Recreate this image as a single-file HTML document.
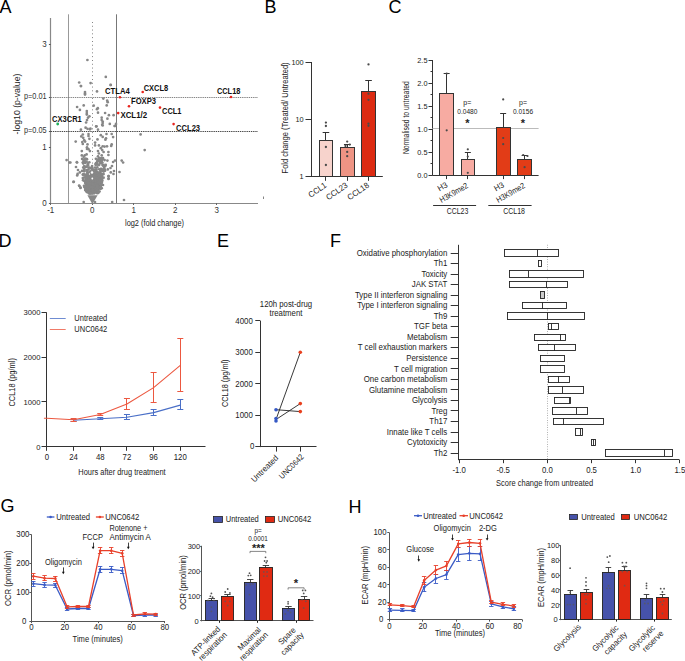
<!DOCTYPE html>
<html><head><meta charset="utf-8"><style>
html,body{margin:0;padding:0;background:#fff;}
svg{display:block;font-family:"Liberation Sans",sans-serif;font-size:7.8px;fill:#222;}
</style></head><body>
<svg width="685" height="661" viewBox="0 0 685 661">
<rect width="685" height="661" fill="#fff"/>
<text x="-0.4" y="12.9" font-size="18" fill="#000">A</text>
<line x1="50.5" y1="18" x2="50.5" y2="203.5" stroke="#888" stroke-width="1.2"/>
<line x1="48.9" y1="44.5" x2="50.7" y2="44.5" stroke="#555" stroke-width="1"/>
<text x="46.8" y="46.9" text-anchor="end" font-size="8.48" fill="#333" textLength="4.45" lengthAdjust="spacingAndGlyphs">3</text>
<line x1="48.9" y1="147.5" x2="50.7" y2="147.5" stroke="#555" stroke-width="1"/>
<text x="46.8" y="150.2" text-anchor="end" font-size="8.48" fill="#333" textLength="4.45" lengthAdjust="spacingAndGlyphs">1</text>
<line x1="48.9" y1="203.5" x2="50.7" y2="203.5" stroke="#555" stroke-width="1"/>
<text x="46.8" y="205.9" text-anchor="end" font-size="8.48" fill="#333" textLength="4.45" lengthAdjust="spacingAndGlyphs">0</text>
<line x1="48.9" y1="97.5" x2="50.7" y2="97.5" stroke="#555" stroke-width="1"/>
<text x="46.6" y="99.4" text-anchor="end" font-size="8.27" fill="#333" textLength="22.6" lengthAdjust="spacingAndGlyphs">p=0.01</text>
<line x1="48.9" y1="131.5" x2="50.7" y2="131.5" stroke="#555" stroke-width="1"/>
<text x="46.6" y="133.4" text-anchor="end" font-size="8.27" fill="#333" textLength="22.6" lengthAdjust="spacingAndGlyphs">p=0.05</text>
<line x1="50.7" y1="203.5" x2="258" y2="203.5" stroke="#888" stroke-width="1.2"/>
<line x1="50.5" y1="203" x2="50.5" y2="205" stroke="#666" stroke-width="1"/>
<text x="50.7" y="212.8" text-anchor="middle" font-size="8.48" fill="#333" textLength="7.11" lengthAdjust="spacingAndGlyphs">-1</text>
<line x1="92.5" y1="203" x2="92.5" y2="205" stroke="#666" stroke-width="1"/>
<text x="92.2" y="212.8" text-anchor="middle" font-size="8.48" fill="#333" textLength="4.45" lengthAdjust="spacingAndGlyphs">0</text>
<line x1="133.5" y1="203" x2="133.5" y2="205" stroke="#666" stroke-width="1"/>
<text x="133.7" y="212.8" text-anchor="middle" font-size="8.48" fill="#333" textLength="4.45" lengthAdjust="spacingAndGlyphs">1</text>
<line x1="175.5" y1="203" x2="175.5" y2="205" stroke="#666" stroke-width="1"/>
<text x="175.2" y="212.8" text-anchor="middle" font-size="8.48" fill="#333" textLength="4.45" lengthAdjust="spacingAndGlyphs">2</text>
<line x1="216.5" y1="203" x2="216.5" y2="205" stroke="#666" stroke-width="1"/>
<text x="216.7" y="212.8" text-anchor="middle" font-size="8.48" fill="#333" textLength="4.45" lengthAdjust="spacingAndGlyphs">3</text>
<text x="154.5" y="225.8" text-anchor="middle" font-size="8.27" textLength="59" lengthAdjust="spacingAndGlyphs">log2 (fold change)</text>
<text x="20.3" y="104" text-anchor="middle" font-size="8.9" textLength="60.8" lengthAdjust="spacingAndGlyphs" transform="rotate(-90 20.3 104)">-log10 (p-value)</text>
<line x1="68.5" y1="14.3" x2="68.5" y2="203" stroke="#999" stroke-width="1"/>
<line x1="116.5" y1="14.3" x2="116.5" y2="203" stroke="#777" stroke-width="1"/>
<line x1="92.5" y1="22" x2="92.5" y2="203" stroke="#666" stroke-width="0.9" stroke-dasharray="0.9 2.9"/>
<line x1="50.7" y1="97.5" x2="258" y2="97.5" stroke="#777" stroke-width="0.9" stroke-dasharray="1.4 0.8"/>
<line x1="50.7" y1="131.5" x2="258" y2="131.5" stroke="#333" stroke-width="0.9" stroke-dasharray="1.4 0.8"/>
<polygon points="86.5,172 85.3,176 84.6,180 85,185 86.8,190 88.8,193.2 97.2,193.2 99.4,190 101.4,185 103.3,180 103,176 101.5,172 96,170.5 91,171.5" fill="#878787"/>
<polygon points="87.4,195.2 97.6,195.2 92.4,204.2" fill="#878787"/>
<circle cx="95.05" cy="180.33" r="1.35" fill="#878787"/>
<circle cx="95.72" cy="178.28" r="1.35" fill="#878787"/>
<circle cx="93.24" cy="189.2" r="1.35" fill="#878787"/>
<circle cx="100.6" cy="173.58" r="1.35" fill="#878787"/>
<circle cx="90.25" cy="191.65" r="1.35" fill="#878787"/>
<circle cx="96.99" cy="191.73" r="1.35" fill="#878787"/>
<circle cx="83.86" cy="171.04" r="1.35" fill="#878787"/>
<circle cx="102.57" cy="158.79" r="1.35" fill="#878787"/>
<circle cx="96.73" cy="172.62" r="1.35" fill="#878787"/>
<circle cx="85.23" cy="189.98" r="1.35" fill="#878787"/>
<circle cx="83.84" cy="177.51" r="1.35" fill="#878787"/>
<circle cx="88.75" cy="189.04" r="1.35" fill="#878787"/>
<circle cx="92.38" cy="193.06" r="1.35" fill="#878787"/>
<circle cx="101.22" cy="180.76" r="1.35" fill="#878787"/>
<circle cx="96.91" cy="177.86" r="1.35" fill="#878787"/>
<circle cx="97.41" cy="178.58" r="1.35" fill="#878787"/>
<circle cx="88.76" cy="180.15" r="1.35" fill="#878787"/>
<circle cx="102.95" cy="158.1" r="1.35" fill="#878787"/>
<circle cx="99.11" cy="164.94" r="1.35" fill="#878787"/>
<circle cx="87.99" cy="185.11" r="1.35" fill="#878787"/>
<circle cx="85.11" cy="185.98" r="1.35" fill="#878787"/>
<circle cx="92.09" cy="168.05" r="1.35" fill="#878787"/>
<circle cx="100.43" cy="159.85" r="1.35" fill="#878787"/>
<circle cx="89.7" cy="193.5" r="1.35" fill="#878787"/>
<circle cx="94.48" cy="192.15" r="1.35" fill="#878787"/>
<circle cx="89.03" cy="167.54" r="1.35" fill="#878787"/>
<circle cx="90.67" cy="191.82" r="1.35" fill="#878787"/>
<circle cx="98.37" cy="159.59" r="1.35" fill="#878787"/>
<circle cx="89.28" cy="191.05" r="1.35" fill="#878787"/>
<circle cx="86.87" cy="191.48" r="1.35" fill="#878787"/>
<circle cx="86.82" cy="166.77" r="1.35" fill="#878787"/>
<circle cx="92.57" cy="176.33" r="1.35" fill="#878787"/>
<circle cx="96.92" cy="189.03" r="1.35" fill="#878787"/>
<circle cx="95.09" cy="190.7" r="1.35" fill="#878787"/>
<circle cx="91.79" cy="191.08" r="1.35" fill="#878787"/>
<circle cx="89.14" cy="188.37" r="1.35" fill="#878787"/>
<circle cx="99.25" cy="159.29" r="1.35" fill="#878787"/>
<circle cx="100.6" cy="185.48" r="1.35" fill="#878787"/>
<circle cx="91.27" cy="188.43" r="1.35" fill="#878787"/>
<circle cx="97.37" cy="164.34" r="1.35" fill="#878787"/>
<circle cx="99.57" cy="191.5" r="1.35" fill="#878787"/>
<circle cx="88.94" cy="188.36" r="1.35" fill="#878787"/>
<circle cx="90.42" cy="167.78" r="1.35" fill="#878787"/>
<circle cx="85.11" cy="185.74" r="1.35" fill="#878787"/>
<circle cx="93.97" cy="191.75" r="1.35" fill="#878787"/>
<circle cx="94.93" cy="187.44" r="1.35" fill="#878787"/>
<circle cx="92.47" cy="183.2" r="1.35" fill="#878787"/>
<circle cx="102" cy="175.74" r="1.35" fill="#878787"/>
<circle cx="87.32" cy="189.26" r="1.35" fill="#878787"/>
<circle cx="100.59" cy="162.02" r="1.35" fill="#878787"/>
<circle cx="87.58" cy="187.24" r="1.35" fill="#878787"/>
<circle cx="104.62" cy="169.16" r="1.35" fill="#878787"/>
<circle cx="100.62" cy="188.85" r="1.35" fill="#878787"/>
<circle cx="96.1" cy="163.15" r="1.35" fill="#878787"/>
<circle cx="85.04" cy="181.44" r="1.35" fill="#878787"/>
<circle cx="98.09" cy="192.89" r="1.35" fill="#878787"/>
<circle cx="96.74" cy="187.59" r="1.35" fill="#878787"/>
<circle cx="99.01" cy="187" r="1.35" fill="#878787"/>
<circle cx="89.12" cy="174.89" r="1.35" fill="#878787"/>
<circle cx="96.63" cy="189.47" r="1.35" fill="#878787"/>
<circle cx="89.45" cy="192.25" r="1.35" fill="#878787"/>
<circle cx="101.68" cy="176.33" r="1.35" fill="#878787"/>
<circle cx="88.91" cy="174.19" r="1.35" fill="#878787"/>
<circle cx="86.62" cy="161.63" r="1.35" fill="#878787"/>
<circle cx="90.27" cy="193.29" r="1.35" fill="#878787"/>
<circle cx="83.95" cy="180.57" r="1.35" fill="#878787"/>
<circle cx="90.88" cy="189.45" r="1.35" fill="#878787"/>
<circle cx="85.46" cy="175.83" r="1.35" fill="#878787"/>
<circle cx="101.37" cy="183.53" r="1.35" fill="#878787"/>
<circle cx="95.91" cy="158.86" r="1.35" fill="#878787"/>
<circle cx="96.26" cy="171.13" r="1.35" fill="#878787"/>
<circle cx="85.86" cy="190.45" r="1.35" fill="#878787"/>
<circle cx="97.22" cy="193.27" r="1.35" fill="#878787"/>
<circle cx="105" cy="170.73" r="1.35" fill="#878787"/>
<circle cx="94.26" cy="193.21" r="1.35" fill="#878787"/>
<circle cx="98.94" cy="179.23" r="1.35" fill="#878787"/>
<circle cx="102.99" cy="184.99" r="1.35" fill="#878787"/>
<circle cx="93.44" cy="192.1" r="1.35" fill="#878787"/>
<circle cx="103.7" cy="169.26" r="1.35" fill="#878787"/>
<circle cx="99.16" cy="169.25" r="1.35" fill="#878787"/>
<circle cx="104.02" cy="166.92" r="1.35" fill="#878787"/>
<circle cx="97.1" cy="183.88" r="1.35" fill="#878787"/>
<circle cx="101.93" cy="162.34" r="1.35" fill="#878787"/>
<circle cx="99.85" cy="181.6" r="1.35" fill="#878787"/>
<circle cx="95.64" cy="163.95" r="1.35" fill="#878787"/>
<circle cx="91.27" cy="173.77" r="1.35" fill="#878787"/>
<circle cx="96.2" cy="175.43" r="1.35" fill="#878787"/>
<circle cx="94.65" cy="191.98" r="1.35" fill="#878787"/>
<circle cx="100.53" cy="158.3" r="1.35" fill="#878787"/>
<circle cx="91.91" cy="169.62" r="1.35" fill="#878787"/>
<circle cx="96.33" cy="169.34" r="1.35" fill="#878787"/>
<circle cx="101.13" cy="180.76" r="1.35" fill="#878787"/>
<circle cx="96.12" cy="191.9" r="1.35" fill="#878787"/>
<circle cx="93.91" cy="193.06" r="1.35" fill="#878787"/>
<circle cx="87.68" cy="179.28" r="1.35" fill="#878787"/>
<circle cx="94.31" cy="170.84" r="1.35" fill="#878787"/>
<circle cx="103.37" cy="174.19" r="1.35" fill="#878787"/>
<circle cx="84.32" cy="187.04" r="1.35" fill="#878787"/>
<circle cx="96.62" cy="185.58" r="1.35" fill="#878787"/>
<circle cx="87.47" cy="188.68" r="1.35" fill="#878787"/>
<circle cx="97.06" cy="162.13" r="1.35" fill="#878787"/>
<circle cx="102.33" cy="180.71" r="1.35" fill="#878787"/>
<circle cx="96.54" cy="184.72" r="1.35" fill="#878787"/>
<circle cx="91.9" cy="188.8" r="1.35" fill="#878787"/>
<circle cx="104" cy="166.39" r="1.35" fill="#878787"/>
<circle cx="89.62" cy="175.41" r="1.35" fill="#878787"/>
<circle cx="92.91" cy="190.56" r="1.35" fill="#878787"/>
<circle cx="102.45" cy="165.08" r="1.35" fill="#878787"/>
<circle cx="104.79" cy="170.31" r="1.35" fill="#878787"/>
<circle cx="87.05" cy="186.37" r="1.35" fill="#878787"/>
<circle cx="88.7" cy="180.39" r="1.35" fill="#878787"/>
<circle cx="91.61" cy="188.33" r="1.35" fill="#878787"/>
<circle cx="93.8" cy="173.74" r="1.35" fill="#878787"/>
<circle cx="99.83" cy="185.11" r="1.35" fill="#878787"/>
<circle cx="86.91" cy="192.11" r="1.35" fill="#878787"/>
<circle cx="83.25" cy="163.55" r="1.35" fill="#878787"/>
<circle cx="96.06" cy="170.42" r="1.35" fill="#878787"/>
<circle cx="98.85" cy="185.32" r="1.35" fill="#878787"/>
<circle cx="88.8" cy="193.25" r="1.35" fill="#878787"/>
<circle cx="83.1" cy="180.24" r="1.35" fill="#878787"/>
<circle cx="88.11" cy="165.39" r="1.35" fill="#878787"/>
<circle cx="86.03" cy="190.44" r="1.35" fill="#878787"/>
<circle cx="92.75" cy="173.61" r="1.35" fill="#878787"/>
<circle cx="97.47" cy="173.58" r="1.35" fill="#878787"/>
<circle cx="105.03" cy="166.33" r="1.35" fill="#878787"/>
<circle cx="87.42" cy="171.4" r="1.35" fill="#878787"/>
<circle cx="86.52" cy="179.5" r="1.35" fill="#878787"/>
<circle cx="92.46" cy="193.38" r="1.35" fill="#878787"/>
<circle cx="87.1" cy="170.19" r="1.35" fill="#878787"/>
<circle cx="90.33" cy="186.52" r="1.35" fill="#878787"/>
<circle cx="94.84" cy="170.88" r="1.35" fill="#878787"/>
<circle cx="99.66" cy="174.19" r="1.35" fill="#878787"/>
<circle cx="99.65" cy="182.44" r="1.35" fill="#878787"/>
<circle cx="84.06" cy="162.11" r="1.35" fill="#878787"/>
<circle cx="98.07" cy="160.97" r="1.35" fill="#878787"/>
<circle cx="92.26" cy="190.73" r="1.35" fill="#878787"/>
<circle cx="103.21" cy="173.75" r="1.35" fill="#878787"/>
<circle cx="94.87" cy="183.02" r="1.35" fill="#878787"/>
<circle cx="100.58" cy="163.27" r="1.35" fill="#878787"/>
<circle cx="87.38" cy="172.73" r="1.35" fill="#878787"/>
<circle cx="101.82" cy="169.88" r="1.35" fill="#878787"/>
<circle cx="98.97" cy="173.11" r="1.35" fill="#878787"/>
<circle cx="99.94" cy="188.35" r="1.35" fill="#878787"/>
<circle cx="102.88" cy="158.86" r="1.35" fill="#878787"/>
<circle cx="100.29" cy="177.18" r="1.35" fill="#878787"/>
<circle cx="101.26" cy="184.94" r="1.35" fill="#878787"/>
<circle cx="92.1" cy="191.92" r="1.35" fill="#878787"/>
<circle cx="99.79" cy="176.67" r="1.35" fill="#878787"/>
<circle cx="83.14" cy="179.04" r="1.35" fill="#878787"/>
<circle cx="84.12" cy="166.26" r="1.35" fill="#878787"/>
<circle cx="86.7" cy="166.65" r="1.35" fill="#878787"/>
<circle cx="99.01" cy="184.45" r="1.35" fill="#878787"/>
<circle cx="87.59" cy="190.45" r="1.35" fill="#878787"/>
<circle cx="98.78" cy="177.95" r="1.35" fill="#878787"/>
<circle cx="98.68" cy="164.95" r="1.35" fill="#878787"/>
<circle cx="83.72" cy="160.24" r="1.35" fill="#878787"/>
<circle cx="93.56" cy="188.11" r="1.35" fill="#878787"/>
<circle cx="97.51" cy="185.94" r="1.35" fill="#878787"/>
<circle cx="94.53" cy="173.22" r="1.35" fill="#878787"/>
<circle cx="95.6" cy="164.8" r="1.35" fill="#878787"/>
<circle cx="90.94" cy="185.23" r="1.35" fill="#878787"/>
<circle cx="103.55" cy="164.73" r="1.35" fill="#878787"/>
<circle cx="99.05" cy="188.51" r="1.35" fill="#878787"/>
<circle cx="87.02" cy="175.8" r="1.35" fill="#878787"/>
<circle cx="93.82" cy="177.22" r="1.35" fill="#878787"/>
<circle cx="83.17" cy="174.55" r="1.35" fill="#878787"/>
<circle cx="99.91" cy="182.19" r="1.35" fill="#878787"/>
<circle cx="93.55" cy="176.19" r="1.35" fill="#878787"/>
<circle cx="84.39" cy="171.14" r="1.35" fill="#878787"/>
<circle cx="91.81" cy="177.12" r="1.35" fill="#878787"/>
<circle cx="102.13" cy="159.9" r="1.35" fill="#878787"/>
<circle cx="92.68" cy="186.62" r="1.35" fill="#878787"/>
<circle cx="91.97" cy="190.81" r="1.35" fill="#878787"/>
<circle cx="103.67" cy="165.98" r="1.35" fill="#878787"/>
<circle cx="89.64" cy="179.44" r="1.35" fill="#878787"/>
<circle cx="95.02" cy="189" r="1.35" fill="#878787"/>
<circle cx="84.87" cy="161.28" r="1.35" fill="#878787"/>
<circle cx="83.28" cy="167.51" r="1.35" fill="#878787"/>
<circle cx="88.48" cy="188.93" r="1.35" fill="#878787"/>
<circle cx="90.24" cy="171.29" r="1.35" fill="#878787"/>
<circle cx="95.8" cy="183.76" r="1.35" fill="#878787"/>
<circle cx="96.09" cy="191.38" r="1.35" fill="#878787"/>
<circle cx="93.09" cy="190.92" r="1.35" fill="#878787"/>
<circle cx="87.71" cy="187.21" r="1.35" fill="#878787"/>
<circle cx="92.33" cy="177.43" r="1.35" fill="#878787"/>
<circle cx="91.65" cy="183.06" r="1.35" fill="#878787"/>
<circle cx="86.09" cy="177.47" r="1.35" fill="#878787"/>
<circle cx="95.3" cy="188.63" r="1.35" fill="#878787"/>
<circle cx="94.69" cy="173.24" r="1.35" fill="#878787"/>
<circle cx="96.71" cy="164.47" r="1.35" fill="#878787"/>
<circle cx="87.81" cy="164.24" r="1.35" fill="#878787"/>
<circle cx="101.62" cy="169.1" r="1.35" fill="#878787"/>
<circle cx="89.29" cy="162.26" r="1.35" fill="#878787"/>
<circle cx="101.45" cy="185.12" r="1.35" fill="#878787"/>
<circle cx="101.69" cy="188.21" r="1.35" fill="#878787"/>
<circle cx="85.27" cy="162.92" r="1.35" fill="#878787"/>
<circle cx="97.13" cy="187.56" r="1.35" fill="#878787"/>
<circle cx="85.84" cy="186.93" r="1.35" fill="#878787"/>
<circle cx="85.64" cy="167.06" r="1.35" fill="#878787"/>
<circle cx="97.47" cy="182.11" r="1.35" fill="#878787"/>
<circle cx="89.52" cy="193.27" r="1.35" fill="#878787"/>
<circle cx="103.68" cy="171.48" r="1.35" fill="#878787"/>
<circle cx="84.23" cy="159.4" r="1.35" fill="#878787"/>
<circle cx="99.56" cy="178.36" r="1.35" fill="#878787"/>
<circle cx="97.93" cy="178.47" r="1.35" fill="#878787"/>
<circle cx="85.9" cy="189.08" r="1.35" fill="#878787"/>
<circle cx="86.48" cy="191.35" r="1.35" fill="#878787"/>
<circle cx="94.08" cy="176.62" r="1.35" fill="#878787"/>
<circle cx="85.8" cy="175.97" r="1.35" fill="#878787"/>
<circle cx="88.14" cy="189.21" r="1.35" fill="#878787"/>
<circle cx="105.75" cy="164.94" r="1.35" fill="#878787"/>
<circle cx="84.09" cy="161.21" r="1.35" fill="#878787"/>
<circle cx="98.35" cy="192.4" r="1.35" fill="#878787"/>
<circle cx="99.71" cy="179.98" r="1.35" fill="#878787"/>
<circle cx="92.63" cy="184.73" r="1.35" fill="#878787"/>
<circle cx="92.18" cy="178" r="1.35" fill="#878787"/>
<circle cx="82.83" cy="174.72" r="1.35" fill="#878787"/>
<circle cx="102.28" cy="170.73" r="1.35" fill="#878787"/>
<circle cx="92.28" cy="189.3" r="1.35" fill="#878787"/>
<circle cx="92.27" cy="169.16" r="1.35" fill="#878787"/>
<circle cx="87.44" cy="188.9" r="1.35" fill="#878787"/>
<circle cx="82.85" cy="178.1" r="1.35" fill="#878787"/>
<circle cx="100.48" cy="162.67" r="1.35" fill="#878787"/>
<circle cx="102.69" cy="170.58" r="1.35" fill="#878787"/>
<circle cx="91.8" cy="173.6" r="1.35" fill="#878787"/>
<circle cx="93.88" cy="174.77" r="1.35" fill="#878787"/>
<circle cx="99.09" cy="158.77" r="1.35" fill="#878787"/>
<circle cx="100.61" cy="186.96" r="1.35" fill="#878787"/>
<circle cx="100.87" cy="168.95" r="1.35" fill="#878787"/>
<circle cx="92.09" cy="166.03" r="1.35" fill="#878787"/>
<circle cx="102.2" cy="162.53" r="1.35" fill="#878787"/>
<circle cx="100.47" cy="170.98" r="1.35" fill="#878787"/>
<circle cx="92.22" cy="168.09" r="1.35" fill="#878787"/>
<circle cx="84.61" cy="169.85" r="1.35" fill="#878787"/>
<circle cx="92.71" cy="184.22" r="1.35" fill="#878787"/>
<circle cx="91.22" cy="193.38" r="1.35" fill="#878787"/>
<circle cx="96.83" cy="173.23" r="1.35" fill="#878787"/>
<circle cx="100.92" cy="187.78" r="1.35" fill="#878787"/>
<circle cx="90.48" cy="172.14" r="1.35" fill="#878787"/>
<circle cx="95.72" cy="172.39" r="1.35" fill="#878787"/>
<circle cx="91.27" cy="177.33" r="1.35" fill="#878787"/>
<circle cx="100.39" cy="170.72" r="1.35" fill="#878787"/>
<circle cx="82.12" cy="158.88" r="1.35" fill="#878787"/>
<circle cx="99.27" cy="174.15" r="1.35" fill="#878787"/>
<circle cx="91.37" cy="187.02" r="1.35" fill="#878787"/>
<circle cx="89.21" cy="192.65" r="1.35" fill="#878787"/>
<circle cx="85.15" cy="183.06" r="1.35" fill="#878787"/>
<circle cx="100.43" cy="187.2" r="1.35" fill="#878787"/>
<circle cx="93.93" cy="176.68" r="1.35" fill="#878787"/>
<circle cx="84.41" cy="166.24" r="1.35" fill="#878787"/>
<circle cx="99.61" cy="174.85" r="1.35" fill="#878787"/>
<circle cx="97.82" cy="192.76" r="1.35" fill="#878787"/>
<circle cx="92.55" cy="189.91" r="1.35" fill="#878787"/>
<circle cx="92.94" cy="189.65" r="1.35" fill="#878787"/>
<circle cx="83.89" cy="174.32" r="1.35" fill="#878787"/>
<circle cx="95.95" cy="177.57" r="1.35" fill="#878787"/>
<circle cx="89.03" cy="183.41" r="1.35" fill="#878787"/>
<circle cx="95.49" cy="172.58" r="1.35" fill="#878787"/>
<circle cx="97.24" cy="186.16" r="1.35" fill="#878787"/>
<circle cx="83.99" cy="185.75" r="1.35" fill="#878787"/>
<circle cx="84.98" cy="187.38" r="1.35" fill="#878787"/>
<circle cx="97.07" cy="190" r="1.35" fill="#878787"/>
<circle cx="101.83" cy="182.56" r="1.35" fill="#878787"/>
<circle cx="84.04" cy="168.79" r="1.35" fill="#878787"/>
<circle cx="102.01" cy="158.5" r="1.35" fill="#878787"/>
<circle cx="97.97" cy="192.14" r="1.35" fill="#878787"/>
<circle cx="93.15" cy="181.16" r="1.35" fill="#878787"/>
<circle cx="86.99" cy="159.19" r="1.35" fill="#878787"/>
<circle cx="103.59" cy="177.7" r="1.35" fill="#878787"/>
<circle cx="93.76" cy="169.84" r="1.35" fill="#878787"/>
<circle cx="99.41" cy="158.94" r="1.35" fill="#878787"/>
<circle cx="85.13" cy="174.61" r="1.35" fill="#878787"/>
<circle cx="92.93" cy="173.8" r="1.35" fill="#878787"/>
<circle cx="85.48" cy="188.64" r="1.35" fill="#878787"/>
<circle cx="85.3" cy="177.52" r="1.35" fill="#878787"/>
<circle cx="97.39" cy="180.67" r="1.35" fill="#878787"/>
<circle cx="88.41" cy="180.21" r="1.35" fill="#878787"/>
<circle cx="91.94" cy="175.44" r="1.35" fill="#878787"/>
<circle cx="95.09" cy="167.56" r="1.35" fill="#878787"/>
<circle cx="102.03" cy="158.1" r="1.35" fill="#878787"/>
<circle cx="88.44" cy="169.37" r="1.35" fill="#878787"/>
<circle cx="98.49" cy="191.15" r="1.35" fill="#878787"/>
<circle cx="97.27" cy="167.3" r="1.35" fill="#878787"/>
<circle cx="87.4" cy="60" r="1.35" fill="#878787"/>
<circle cx="105.8" cy="76.9" r="1.35" fill="#878787"/>
<circle cx="110.6" cy="84.9" r="1.35" fill="#878787"/>
<circle cx="79.2" cy="82.5" r="1.35" fill="#878787"/>
<circle cx="81" cy="86.1" r="1.35" fill="#878787"/>
<circle cx="90.6" cy="83.1" r="1.35" fill="#878787"/>
<circle cx="97" cy="91.4" r="1.35" fill="#878787"/>
<circle cx="85" cy="92" r="1.35" fill="#878787"/>
<circle cx="85" cy="93.4" r="1.35" fill="#878787"/>
<circle cx="85" cy="94.6" r="1.35" fill="#878787"/>
<circle cx="103.3" cy="98.6" r="1.35" fill="#878787"/>
<circle cx="107.2" cy="100.7" r="1.35" fill="#878787"/>
<circle cx="107.7" cy="102.2" r="1.35" fill="#878787"/>
<circle cx="106.7" cy="105.4" r="1.35" fill="#878787"/>
<circle cx="77.1" cy="107" r="1.35" fill="#878787"/>
<circle cx="83.7" cy="105.4" r="1.35" fill="#878787"/>
<circle cx="79.9" cy="109.9" r="1.35" fill="#878787"/>
<circle cx="93.7" cy="105.7" r="1.35" fill="#878787"/>
<circle cx="97" cy="109.2" r="1.35" fill="#878787"/>
<circle cx="97.8" cy="108.2" r="1.35" fill="#878787"/>
<circle cx="98" cy="112.7" r="1.35" fill="#878787"/>
<circle cx="86.8" cy="111.1" r="1.35" fill="#878787"/>
<circle cx="86.8" cy="113" r="1.35" fill="#878787"/>
<circle cx="86.8" cy="114.6" r="1.35" fill="#878787"/>
<circle cx="105.1" cy="113" r="1.35" fill="#878787"/>
<circle cx="108.9" cy="115.2" r="1.35" fill="#878787"/>
<circle cx="113.6" cy="115.2" r="1.35" fill="#878787"/>
<circle cx="107.4" cy="118.7" r="1.35" fill="#878787"/>
<circle cx="89.4" cy="116.3" r="1.35" fill="#878787"/>
<circle cx="88" cy="117.7" r="1.35" fill="#878787"/>
<circle cx="87" cy="120.1" r="1.35" fill="#878787"/>
<circle cx="86.1" cy="122.5" r="1.35" fill="#878787"/>
<circle cx="101.7" cy="117.7" r="1.35" fill="#878787"/>
<circle cx="101.7" cy="120" r="1.35" fill="#878787"/>
<circle cx="102.7" cy="121.5" r="1.35" fill="#878787"/>
<circle cx="102.7" cy="123" r="1.35" fill="#878787"/>
<circle cx="102.2" cy="124.8" r="1.35" fill="#878787"/>
<circle cx="109.8" cy="123.9" r="1.35" fill="#878787"/>
<circle cx="116" cy="123.9" r="1.35" fill="#878787"/>
<circle cx="115" cy="126" r="1.35" fill="#878787"/>
<circle cx="96.5" cy="126.3" r="1.35" fill="#878787"/>
<circle cx="85.6" cy="127.7" r="1.35" fill="#878787"/>
<circle cx="90.4" cy="128.6" r="1.35" fill="#878787"/>
<circle cx="80.9" cy="86" r="1.35" fill="#878787"/>
<circle cx="80.9" cy="129.7" r="1.35" fill="#878787"/>
<circle cx="87.5" cy="128.8" r="1.35" fill="#878787"/>
<circle cx="89.9" cy="129.3" r="1.35" fill="#878787"/>
<circle cx="96.1" cy="126.4" r="1.35" fill="#878787"/>
<circle cx="98" cy="129.7" r="1.35" fill="#878787"/>
<circle cx="102.7" cy="125.5" r="1.35" fill="#878787"/>
<circle cx="114.6" cy="126" r="1.35" fill="#878787"/>
<circle cx="110.8" cy="85" r="1.35" fill="#878787"/>
<circle cx="82.8" cy="134.5" r="1.35" fill="#878787"/>
<circle cx="81.3" cy="136.4" r="1.35" fill="#878787"/>
<circle cx="83.2" cy="137.8" r="1.35" fill="#878787"/>
<circle cx="88.5" cy="134" r="1.35" fill="#878787"/>
<circle cx="88.5" cy="136" r="1.35" fill="#878787"/>
<circle cx="89.4" cy="138.8" r="1.35" fill="#878787"/>
<circle cx="84.2" cy="140.2" r="1.35" fill="#878787"/>
<circle cx="85.1" cy="141.6" r="1.35" fill="#878787"/>
<circle cx="82.3" cy="142.1" r="1.35" fill="#878787"/>
<circle cx="82.8" cy="144" r="1.35" fill="#878787"/>
<circle cx="75.7" cy="141.6" r="1.35" fill="#878787"/>
<circle cx="100.8" cy="135.2" r="1.35" fill="#878787"/>
<circle cx="102.7" cy="136.9" r="1.35" fill="#878787"/>
<circle cx="106.5" cy="134" r="1.35" fill="#878787"/>
<circle cx="106" cy="138.3" r="1.35" fill="#878787"/>
<circle cx="105.4" cy="139.7" r="1.35" fill="#878787"/>
<circle cx="111.7" cy="134" r="1.35" fill="#878787"/>
<circle cx="113.1" cy="137.1" r="1.35" fill="#878787"/>
<circle cx="97.5" cy="139.4" r="1.35" fill="#878787"/>
<circle cx="95.1" cy="142.6" r="1.35" fill="#878787"/>
<circle cx="95.1" cy="145.4" r="1.35" fill="#878787"/>
<circle cx="98.9" cy="145.4" r="1.35" fill="#878787"/>
<circle cx="87.5" cy="144.4" r="1.35" fill="#878787"/>
<circle cx="87" cy="147.3" r="1.35" fill="#878787"/>
<circle cx="87" cy="149" r="1.35" fill="#878787"/>
<circle cx="88.5" cy="149.2" r="1.35" fill="#878787"/>
<circle cx="89.9" cy="151.1" r="1.35" fill="#878787"/>
<circle cx="81.8" cy="151.1" r="1.35" fill="#878787"/>
<circle cx="102.7" cy="146.3" r="1.35" fill="#878787"/>
<circle cx="104.6" cy="146.6" r="1.35" fill="#878787"/>
<circle cx="107" cy="146.3" r="1.35" fill="#878787"/>
<circle cx="111.7" cy="144.4" r="1.35" fill="#878787"/>
<circle cx="111.2" cy="145.9" r="1.35" fill="#878787"/>
<circle cx="100.8" cy="148.2" r="1.35" fill="#878787"/>
<circle cx="102.2" cy="150.1" r="1.35" fill="#878787"/>
<circle cx="103.6" cy="152" r="1.35" fill="#878787"/>
<circle cx="108.4" cy="152" r="1.35" fill="#878787"/>
<circle cx="108.4" cy="155" r="1.35" fill="#878787"/>
<circle cx="98" cy="151.1" r="1.35" fill="#878787"/>
<circle cx="98.9" cy="153.5" r="1.35" fill="#878787"/>
<circle cx="81.8" cy="155.4" r="1.35" fill="#878787"/>
<circle cx="84.7" cy="155.4" r="1.35" fill="#878787"/>
<circle cx="86.6" cy="154.4" r="1.35" fill="#878787"/>
<circle cx="83.7" cy="156.8" r="1.35" fill="#878787"/>
<circle cx="85.6" cy="158.7" r="1.35" fill="#878787"/>
<circle cx="98" cy="156.3" r="1.35" fill="#878787"/>
<circle cx="98.9" cy="158.2" r="1.35" fill="#878787"/>
<circle cx="101.7" cy="155.4" r="1.35" fill="#878787"/>
<circle cx="97.5" cy="160.6" r="1.35" fill="#878787"/>
<circle cx="99.8" cy="161.5" r="1.35" fill="#878787"/>
<circle cx="104.6" cy="160.1" r="1.35" fill="#878787"/>
<circle cx="107.4" cy="160.6" r="1.35" fill="#878787"/>
<circle cx="66.6" cy="160.1" r="1.35" fill="#878787"/>
<circle cx="69.5" cy="162.5" r="1.35" fill="#878787"/>
<circle cx="77.1" cy="162.5" r="1.35" fill="#878787"/>
<circle cx="82.8" cy="162.5" r="1.35" fill="#878787"/>
<circle cx="88" cy="163.4" r="1.35" fill="#878787"/>
<circle cx="113.1" cy="162" r="1.35" fill="#878787"/>
<circle cx="115" cy="160.6" r="1.35" fill="#878787"/>
<circle cx="121.7" cy="160.6" r="1.35" fill="#878787"/>
<circle cx="123.1" cy="162.5" r="1.35" fill="#878787"/>
<circle cx="140.6" cy="134.4" r="1.35" fill="#878787"/>
<circle cx="144.7" cy="150.1" r="1.35" fill="#878787"/>
<circle cx="73.8" cy="181.8" r="1.35" fill="#878787"/>
<circle cx="79.4" cy="186" r="1.35" fill="#878787"/>
<circle cx="80.5" cy="188" r="1.35" fill="#878787"/>
<circle cx="108.5" cy="176" r="1.35" fill="#878787"/>
<circle cx="108.5" cy="179" r="1.35" fill="#878787"/>
<circle cx="119.5" cy="172" r="1.35" fill="#878787"/>
<circle cx="83.7" cy="202" r="1.35" fill="#878787"/>
<circle cx="112.2" cy="202" r="1.35" fill="#878787"/>
<circle cx="95" cy="202" r="1.35" fill="#878787"/>
<circle cx="124" cy="200" r="1.35" fill="#878787"/>
<circle cx="110.5" cy="168" r="1.35" fill="#878787"/>
<circle cx="112" cy="166" r="1.35" fill="#878787"/>
<circle cx="114" cy="171" r="1.35" fill="#878787"/>
<circle cx="113.5" cy="174" r="1.35" fill="#878787"/>
<circle cx="76" cy="167" r="1.35" fill="#878787"/>
<circle cx="78" cy="170" r="1.35" fill="#878787"/>
<circle cx="73.4" cy="181.9" r="1.35" fill="#878787"/>
<circle cx="79.1" cy="185.6" r="1.35" fill="#878787"/>
<circle cx="80.6" cy="187.5" r="1.35" fill="#878787"/>
<circle cx="77.2" cy="175.4" r="1.35" fill="#878787"/>
<circle cx="77.6" cy="173.9" r="1.35" fill="#878787"/>
<circle cx="79.8" cy="172.4" r="1.35" fill="#878787"/>
<circle cx="82.1" cy="170.9" r="1.35" fill="#878787"/>
<circle cx="108.6" cy="176.2" r="1.35" fill="#878787"/>
<circle cx="108.6" cy="178.4" r="1.35" fill="#878787"/>
<circle cx="110.8" cy="172.4" r="1.35" fill="#878787"/>
<circle cx="107.8" cy="169.4" r="1.35" fill="#878787"/>
<circle cx="76.8" cy="162.2" r="1.35" fill="#878787"/>
<circle cx="83.2" cy="162.6" r="1.35" fill="#878787"/>
<circle cx="70.4" cy="162.5" r="1.35" fill="#878787"/>
<circle cx="92" cy="172.5" r="1.2" fill="#fff"/>
<circle cx="92.3" cy="178.5" r="0.9" fill="#fff"/>
<circle cx="89.5" cy="174" r="0.7" fill="#fff"/>
<circle cx="119.9" cy="97.2" r="1.3" fill="#e8231d"/>
<circle cx="129" cy="106.3" r="1.3" fill="#e8231d"/>
<circle cx="142.7" cy="92" r="1.3" fill="#e8231d"/>
<circle cx="231" cy="97" r="1.3" fill="#e8231d"/>
<circle cx="160" cy="107.6" r="1.3" fill="#e8231d"/>
<circle cx="173.6" cy="124.1" r="1.3" fill="#e8231d"/>
<circle cx="118.2" cy="113.1" r="1.3" fill="#e8231d"/>
<circle cx="57.7" cy="124" r="1.4" fill="#1fae5a"/>
<text x="105.1" y="94.2" font-weight="bold" font-size="8.27" fill="#111" textLength="24.6" lengthAdjust="spacingAndGlyphs">CTLA4</text>
<text x="143.7" y="90.6" font-weight="bold" font-size="8.27" fill="#111" textLength="24.5" lengthAdjust="spacingAndGlyphs">CXCL8</text>
<text x="216.9" y="93.7" font-weight="bold" font-size="8.27" fill="#111" textLength="23.5" lengthAdjust="spacingAndGlyphs">CCL18</text>
<text x="131" y="103.9" font-weight="bold" font-size="8.27" fill="#111" textLength="25" lengthAdjust="spacingAndGlyphs">FOXP3</text>
<text x="162.1" y="114.3" font-weight="bold" font-size="8.27" fill="#111" textLength="19.4" lengthAdjust="spacingAndGlyphs">CCL1</text>
<text x="176" y="130.5" font-weight="bold" font-size="8.27" fill="#111" textLength="24.1" lengthAdjust="spacingAndGlyphs">CCL23</text>
<text x="120.4" y="118.4" font-weight="bold" font-size="8.27" fill="#111" textLength="26.8" lengthAdjust="spacingAndGlyphs">XCL1/2</text>
<text x="52.1" y="122.1" font-weight="bold" font-size="8.27" fill="#111" textLength="29.7" lengthAdjust="spacingAndGlyphs">CX3CR1</text>
<line x1="263.5" y1="196.5" x2="263.5" y2="199" stroke="#666" stroke-width="0.8"/>
<text x="264.5" y="13.1" font-size="18" fill="#000">B</text>
<line x1="311.5" y1="62" x2="311.5" y2="176.8" stroke="#333" stroke-width="1"/>
<line x1="305.5" y1="176.5" x2="382.8" y2="176.5" stroke="#333" stroke-width="1"/>
<line x1="305.5" y1="62.5" x2="311.5" y2="62.5" stroke="#333" stroke-width="1"/>
<text x="303.7" y="64.7" text-anchor="end" font-size="7.79" textLength="12.26" lengthAdjust="spacingAndGlyphs">100</text>
<line x1="305.5" y1="119.5" x2="311.5" y2="119.5" stroke="#333" stroke-width="1"/>
<text x="303.7" y="121.9" text-anchor="end" font-size="7.79" textLength="8.17" lengthAdjust="spacingAndGlyphs">10</text>
<text x="303.7" y="179" text-anchor="end" font-size="7.79" textLength="4.09" lengthAdjust="spacingAndGlyphs">1</text>
<rect x="319.5" y="140.5" width="13" height="36" fill="#f7d3cc" stroke="#333" stroke-width="1"/>
<line x1="325.5" y1="176.3" x2="325.5" y2="180.8" stroke="#333" stroke-width="1"/>
<rect x="340.5" y="147.5" width="14" height="29" fill="#ee9484" stroke="#333" stroke-width="1"/>
<line x1="347.5" y1="176.3" x2="347.5" y2="180.8" stroke="#333" stroke-width="1"/>
<rect x="361.5" y="91.5" width="14" height="85" fill="#dc2b12" stroke="#333" stroke-width="1"/>
<line x1="368.5" y1="176.3" x2="368.5" y2="180.8" stroke="#333" stroke-width="1"/>
<line x1="325.5" y1="140.2" x2="325.5" y2="132" stroke="#333" stroke-width="1"/>
<line x1="322.65" y1="132.5" x2="329.25" y2="132.5" stroke="#333" stroke-width="1"/>
<line x1="347.5" y1="147.6" x2="347.5" y2="144.5" stroke="#333" stroke-width="1"/>
<line x1="343.95" y1="144.5" x2="350.55" y2="144.5" stroke="#333" stroke-width="1"/>
<line x1="368.5" y1="91" x2="368.5" y2="80.4" stroke="#333" stroke-width="1"/>
<line x1="365.25" y1="80.5" x2="371.85" y2="80.5" stroke="#333" stroke-width="1"/>
<circle cx="325.9" cy="122.6" r="1.15" fill="#4a4a4a"/>
<circle cx="325.9" cy="126" r="1.15" fill="#4a4a4a"/>
<circle cx="325.9" cy="147" r="1.15" fill="#4a4a4a"/>
<circle cx="325.9" cy="165" r="1.15" fill="#4a4a4a"/>
<circle cx="347.2" cy="141.6" r="1.15" fill="#4a4a4a"/>
<circle cx="349.8" cy="144.6" r="1.15" fill="#4a4a4a"/>
<circle cx="345.5" cy="146" r="1.15" fill="#4a4a4a"/>
<circle cx="347.2" cy="151.9" r="1.15" fill="#4a4a4a"/>
<circle cx="347.2" cy="156.2" r="1.15" fill="#4a4a4a"/>
<circle cx="368.5" cy="64.4" r="1.15" fill="#4a4a4a"/>
<circle cx="368.5" cy="93.7" r="1.15" fill="#4a4a4a"/>
<circle cx="368.5" cy="99.8" r="1.15" fill="#4a4a4a"/>
<circle cx="368.5" cy="123.7" r="1.15" fill="#4a4a4a"/>
<circle cx="368.5" cy="125.8" r="1.15" fill="#4a4a4a"/>
<text x="327.1" y="186.5" text-anchor="end" font-size="8.27" textLength="19.94" lengthAdjust="spacingAndGlyphs" transform="rotate(-35 327.1 186.5)">CCL1</text>
<text x="348.4" y="186.5" text-anchor="end" font-size="8.27" textLength="24.28" lengthAdjust="spacingAndGlyphs" transform="rotate(-35 348.4 186.5)">CCL23</text>
<text x="369.7" y="186.5" text-anchor="end" font-size="8.27" textLength="24.28" lengthAdjust="spacingAndGlyphs" transform="rotate(-35 369.7 186.5)">CCL18</text>
<text x="288.4" y="117.9" text-anchor="middle" font-size="8.27" textLength="111" lengthAdjust="spacingAndGlyphs" transform="rotate(-90 288.4 117.9)">Fold change (Treated/ Untreated)</text>
<text x="388.6" y="13.1" font-size="18" fill="#000">C</text>
<line x1="432.5" y1="60" x2="432.5" y2="175.6" stroke="#333" stroke-width="1"/>
<line x1="432.5" y1="175.5" x2="538.6" y2="175.5" stroke="#333" stroke-width="1"/>
<line x1="432.5" y1="128.5" x2="538.6" y2="128.5" stroke="#bbb" stroke-width="1.1"/>
<line x1="428.5" y1="175.5" x2="432.5" y2="175.5" stroke="#333" stroke-width="1"/>
<text x="427.5" y="177.8" text-anchor="end" font-size="7.79" textLength="10.22" lengthAdjust="spacingAndGlyphs">0.0</text>
<line x1="430.5" y1="163.5" x2="432.5" y2="163.5" stroke="#333" stroke-width="1"/>
<line x1="428.5" y1="152.5" x2="432.5" y2="152.5" stroke="#333" stroke-width="1"/>
<text x="427.5" y="154.8" text-anchor="end" font-size="7.79" textLength="10.22" lengthAdjust="spacingAndGlyphs">0.5</text>
<line x1="430.5" y1="140.5" x2="432.5" y2="140.5" stroke="#333" stroke-width="1"/>
<line x1="428.5" y1="129.5" x2="432.5" y2="129.5" stroke="#333" stroke-width="1"/>
<text x="427.5" y="131.8" text-anchor="end" font-size="7.79" textLength="10.22" lengthAdjust="spacingAndGlyphs">1.0</text>
<line x1="430.5" y1="117.5" x2="432.5" y2="117.5" stroke="#333" stroke-width="1"/>
<line x1="428.5" y1="106.5" x2="432.5" y2="106.5" stroke="#333" stroke-width="1"/>
<text x="427.5" y="108.8" text-anchor="end" font-size="7.79" textLength="10.22" lengthAdjust="spacingAndGlyphs">1.5</text>
<line x1="430.5" y1="94.5" x2="432.5" y2="94.5" stroke="#333" stroke-width="1"/>
<line x1="428.5" y1="83.5" x2="432.5" y2="83.5" stroke="#333" stroke-width="1"/>
<text x="427.5" y="85.8" text-anchor="end" font-size="7.79" textLength="10.22" lengthAdjust="spacingAndGlyphs">2.0</text>
<line x1="430.5" y1="71.5" x2="432.5" y2="71.5" stroke="#333" stroke-width="1"/>
<line x1="428.5" y1="60.5" x2="432.5" y2="60.5" stroke="#333" stroke-width="1"/>
<text x="427.5" y="62.8" text-anchor="end" font-size="7.79" textLength="10.22" lengthAdjust="spacingAndGlyphs">2.5</text>
<rect x="439.5" y="93.5" width="14" height="82" fill="#f7aba2" stroke="#333" stroke-width="1"/>
<line x1="446.5" y1="93" x2="446.5" y2="73.6" stroke="#333" stroke-width="1"/>
<line x1="443.65" y1="73.5" x2="449.65" y2="73.5" stroke="#333" stroke-width="1"/>
<line x1="446.5" y1="175.1" x2="446.5" y2="179.1" stroke="#333" stroke-width="1"/>
<rect x="461.5" y="159.5" width="13" height="16" fill="#f7aba2" stroke="#333" stroke-width="1"/>
<line x1="467.5" y1="159.7" x2="467.5" y2="152.4" stroke="#333" stroke-width="1"/>
<line x1="464.85" y1="152.5" x2="470.85" y2="152.5" stroke="#333" stroke-width="1"/>
<line x1="467.5" y1="175.1" x2="467.5" y2="179.1" stroke="#333" stroke-width="1"/>
<rect x="496.5" y="127.5" width="14" height="48" fill="#e23c17" stroke="#333" stroke-width="1"/>
<line x1="503.5" y1="127.6" x2="503.5" y2="113.6" stroke="#333" stroke-width="1"/>
<line x1="500.15" y1="113.5" x2="506.15" y2="113.5" stroke="#333" stroke-width="1"/>
<line x1="503.5" y1="175.1" x2="503.5" y2="179.1" stroke="#333" stroke-width="1"/>
<rect x="517.5" y="159.5" width="14" height="16" fill="#e23c17" stroke="#333" stroke-width="1"/>
<line x1="524.5" y1="159.5" x2="524.5" y2="155.8" stroke="#333" stroke-width="1"/>
<line x1="521.6" y1="155.5" x2="527.6" y2="155.5" stroke="#333" stroke-width="1"/>
<line x1="524.5" y1="175.1" x2="524.5" y2="179.1" stroke="#333" stroke-width="1"/>
<circle cx="446.7" cy="73.6" r="1.1" fill="#4a4a4a"/>
<circle cx="446.7" cy="130.3" r="1.1" fill="#4a4a4a"/>
<circle cx="467.8" cy="149.3" r="1.1" fill="#4a4a4a"/>
<circle cx="467.8" cy="156.5" r="1.1" fill="#4a4a4a"/>
<circle cx="467.8" cy="172.8" r="1.1" fill="#4a4a4a"/>
<circle cx="503.2" cy="99.4" r="1.1" fill="#4a4a4a"/>
<circle cx="503.2" cy="138" r="1.1" fill="#4a4a4a"/>
<circle cx="503.2" cy="144.2" r="1.1" fill="#4a4a4a"/>
<circle cx="523.2" cy="155" r="1.1" fill="#4a4a4a"/>
<circle cx="527.5" cy="156" r="1.1" fill="#4a4a4a"/>
<circle cx="524.6" cy="167.2" r="1.1" fill="#4a4a4a"/>
<text x="467.3" y="105.3" text-anchor="middle" font-size="7.42" textLength="7.98" lengthAdjust="spacingAndGlyphs">p=</text>
<text x="467.3" y="113.9" text-anchor="middle" font-size="7.42" textLength="20.1" lengthAdjust="spacingAndGlyphs">0.0480</text>
<text x="467.3" y="127.3" text-anchor="middle" font-weight="bold" font-size="11">*</text>
<text x="523" y="105.3" text-anchor="middle" font-size="7.42" textLength="7.98" lengthAdjust="spacingAndGlyphs">p=</text>
<text x="523" y="113.9" text-anchor="middle" font-size="7.42" textLength="20.1" lengthAdjust="spacingAndGlyphs">0.0156</text>
<text x="523" y="127.3" text-anchor="middle" font-weight="bold" font-size="11">*</text>
<text x="448.2" y="186.5" text-anchor="end" font-size="8.27" textLength="9.97" lengthAdjust="spacingAndGlyphs" transform="rotate(-30 448.2 186.5)">H3</text>
<text x="504.7" y="186.5" text-anchor="end" font-size="8.27" textLength="9.97" lengthAdjust="spacingAndGlyphs" transform="rotate(-30 504.7 186.5)">H3</text>
<text x="468.8" y="187.2" text-anchor="end" font-size="8.27" textLength="31.5" lengthAdjust="spacingAndGlyphs" transform="rotate(-30 468.8 187.2)">H3K9me2</text>
<text x="525.6" y="187.2" text-anchor="end" font-size="8.27" textLength="31.5" lengthAdjust="spacingAndGlyphs" transform="rotate(-30 525.6 187.2)">H3K9me2</text>
<line x1="433.1" y1="205.5" x2="476.1" y2="205.5" stroke="#333" stroke-width="1"/>
<line x1="488.3" y1="205.5" x2="531.6" y2="205.5" stroke="#333" stroke-width="1"/>
<text x="457.5" y="214.2" text-anchor="middle" font-size="8.27" textLength="21.6" lengthAdjust="spacingAndGlyphs">CCL23</text>
<text x="514.1" y="214.2" text-anchor="middle" font-size="8.27" textLength="21.8" lengthAdjust="spacingAndGlyphs">CCL18</text>
<text x="409.1" y="117.6" text-anchor="middle" font-size="8.27" textLength="73" lengthAdjust="spacingAndGlyphs" transform="rotate(-90 409.1 117.6)">Normalised to untreated</text>
<text x="-1.4" y="246.7" font-size="18" fill="#000">D</text>
<line x1="46.5" y1="312.3" x2="46.5" y2="447.3" stroke="#333" stroke-width="1"/>
<line x1="41.5" y1="446.5" x2="205.5" y2="446.5" stroke="#333" stroke-width="1"/>
<line x1="41.5" y1="401.5" x2="46.5" y2="401.5" stroke="#333" stroke-width="1"/>
<text x="40.5" y="404.67" text-anchor="end" font-size="8.1" textLength="16.99" lengthAdjust="spacingAndGlyphs">1000</text>
<line x1="41.5" y1="357.5" x2="46.5" y2="357.5" stroke="#333" stroke-width="1"/>
<text x="40.5" y="359.84" text-anchor="end" font-size="8.1" textLength="16.99" lengthAdjust="spacingAndGlyphs">2000</text>
<line x1="41.5" y1="312.5" x2="46.5" y2="312.5" stroke="#333" stroke-width="1"/>
<text x="40.5" y="315.01" text-anchor="end" font-size="8.1" textLength="16.99" lengthAdjust="spacingAndGlyphs">3000</text>
<text x="40.5" y="449.5" text-anchor="end" font-size="8.1" textLength="4.25" lengthAdjust="spacingAndGlyphs">0</text>
<line x1="46.5" y1="446.8" x2="46.5" y2="450.8" stroke="#333" stroke-width="1"/>
<text x="46.9" y="460.4" text-anchor="middle" font-size="8.27" textLength="4.34" lengthAdjust="spacingAndGlyphs">0</text>
<line x1="73.5" y1="446.8" x2="73.5" y2="450.8" stroke="#333" stroke-width="1"/>
<text x="73.58" y="460.4" text-anchor="middle" font-size="8.27" textLength="8.68" lengthAdjust="spacingAndGlyphs">24</text>
<line x1="100.5" y1="446.8" x2="100.5" y2="450.8" stroke="#333" stroke-width="1"/>
<text x="100.26" y="460.4" text-anchor="middle" font-size="8.27" textLength="8.68" lengthAdjust="spacingAndGlyphs">48</text>
<line x1="126.5" y1="446.8" x2="126.5" y2="450.8" stroke="#333" stroke-width="1"/>
<text x="126.94" y="460.4" text-anchor="middle" font-size="8.27" textLength="8.68" lengthAdjust="spacingAndGlyphs">72</text>
<line x1="153.5" y1="446.8" x2="153.5" y2="450.8" stroke="#333" stroke-width="1"/>
<text x="153.62" y="460.4" text-anchor="middle" font-size="8.27" textLength="8.68" lengthAdjust="spacingAndGlyphs">96</text>
<line x1="180.5" y1="446.8" x2="180.5" y2="450.8" stroke="#333" stroke-width="1"/>
<text x="180.3" y="460.4" text-anchor="middle" font-size="8.27" textLength="13.01" lengthAdjust="spacingAndGlyphs">120</text>
<text x="122" y="475.3" text-anchor="middle" font-size="8.27" textLength="87.3" lengthAdjust="spacingAndGlyphs">Hours after drug treatment</text>
<text x="15.2" y="382.3" text-anchor="middle" font-size="8.27" textLength="48.5" lengthAdjust="spacingAndGlyphs" transform="rotate(-90 15.2 382.3)">CCL18 (pg/ml)</text>
<line x1="49.8" y1="318.5" x2="65.7" y2="318.5" stroke="#4a6fc7" stroke-width="0.8"/>
<line x1="49.8" y1="329.5" x2="65.7" y2="329.5" stroke="#ec5840" stroke-width="0.8"/>
<text x="74.3" y="321.3" font-size="8.27" textLength="33" lengthAdjust="spacingAndGlyphs">Untreated</text>
<text x="74.3" y="332" font-size="8.27" textLength="33" lengthAdjust="spacingAndGlyphs">UNC0642</text>
<polyline points="73.58,420.3 100.26,418.7 126.94,417.3 153.62,412.6 180.3,405.1" fill="none" stroke="#4a6fc7" stroke-width="1.1" stroke-linejoin="round"/>
<line x1="73.5" y1="419.3" x2="73.5" y2="421.3" stroke="#4a6fc7" stroke-width="1"/>
<line x1="70.58" y1="419.5" x2="76.58" y2="419.5" stroke="#4a6fc7" stroke-width="1"/>
<line x1="70.58" y1="421.5" x2="76.58" y2="421.5" stroke="#4a6fc7" stroke-width="1"/>
<line x1="100.5" y1="417.5" x2="100.5" y2="419.6" stroke="#4a6fc7" stroke-width="1"/>
<line x1="97.26" y1="417.5" x2="103.26" y2="417.5" stroke="#4a6fc7" stroke-width="1"/>
<line x1="97.26" y1="419.5" x2="103.26" y2="419.5" stroke="#4a6fc7" stroke-width="1"/>
<line x1="126.5" y1="414.5" x2="126.5" y2="419.8" stroke="#4a6fc7" stroke-width="1"/>
<line x1="123.94" y1="414.5" x2="129.94" y2="414.5" stroke="#4a6fc7" stroke-width="1"/>
<line x1="123.94" y1="419.5" x2="129.94" y2="419.5" stroke="#4a6fc7" stroke-width="1"/>
<line x1="153.5" y1="409.3" x2="153.5" y2="415.2" stroke="#4a6fc7" stroke-width="1"/>
<line x1="150.62" y1="409.5" x2="156.62" y2="409.5" stroke="#4a6fc7" stroke-width="1"/>
<line x1="150.62" y1="415.5" x2="156.62" y2="415.5" stroke="#4a6fc7" stroke-width="1"/>
<line x1="180.5" y1="399.7" x2="180.5" y2="409.5" stroke="#4a6fc7" stroke-width="1"/>
<line x1="177.3" y1="399.5" x2="183.3" y2="399.5" stroke="#4a6fc7" stroke-width="1"/>
<line x1="177.3" y1="409.5" x2="183.3" y2="409.5" stroke="#4a6fc7" stroke-width="1"/>
<polyline points="43.9,418.2 46.9,418.3 73.58,419.8 100.26,414.5 126.94,404 153.62,387.6 180.3,365.4" fill="none" stroke="#ec5840" stroke-width="1.1" stroke-linejoin="round"/>
<line x1="73.5" y1="418.6" x2="73.5" y2="421" stroke="#ec5840" stroke-width="1"/>
<line x1="70.58" y1="418.5" x2="76.58" y2="418.5" stroke="#ec5840" stroke-width="1"/>
<line x1="70.58" y1="421.5" x2="76.58" y2="421.5" stroke="#ec5840" stroke-width="1"/>
<line x1="100.5" y1="413" x2="100.5" y2="415.8" stroke="#ec5840" stroke-width="1"/>
<line x1="97.26" y1="413.5" x2="103.26" y2="413.5" stroke="#ec5840" stroke-width="1"/>
<line x1="97.26" y1="415.5" x2="103.26" y2="415.5" stroke="#ec5840" stroke-width="1"/>
<line x1="126.5" y1="398.6" x2="126.5" y2="409.3" stroke="#ec5840" stroke-width="1"/>
<line x1="123.94" y1="398.5" x2="129.94" y2="398.5" stroke="#ec5840" stroke-width="1"/>
<line x1="123.94" y1="409.5" x2="129.94" y2="409.5" stroke="#ec5840" stroke-width="1"/>
<line x1="153.5" y1="372.9" x2="153.5" y2="402.3" stroke="#ec5840" stroke-width="1"/>
<line x1="150.62" y1="372.5" x2="156.62" y2="372.5" stroke="#ec5840" stroke-width="1"/>
<line x1="150.62" y1="402.5" x2="156.62" y2="402.5" stroke="#ec5840" stroke-width="1"/>
<line x1="180.5" y1="338.1" x2="180.5" y2="391.6" stroke="#ec5840" stroke-width="1"/>
<line x1="177.3" y1="338.5" x2="183.3" y2="338.5" stroke="#ec5840" stroke-width="1"/>
<line x1="177.3" y1="391.5" x2="183.3" y2="391.5" stroke="#ec5840" stroke-width="1"/>
<text x="216.9" y="247" font-size="18" fill="#000">E</text>
<line x1="260.5" y1="320.8" x2="260.5" y2="447.1" stroke="#333" stroke-width="1"/>
<line x1="255.3" y1="446.5" x2="316.5" y2="446.5" stroke="#333" stroke-width="1"/>
<line x1="255.3" y1="415.5" x2="260.3" y2="415.5" stroke="#333" stroke-width="1"/>
<text x="252.8" y="417.95" text-anchor="end" font-size="8.34" textLength="17.51" lengthAdjust="spacingAndGlyphs">1000</text>
<line x1="255.3" y1="383.5" x2="260.3" y2="383.5" stroke="#333" stroke-width="1"/>
<text x="252.8" y="386.5" text-anchor="end" font-size="8.34" textLength="17.51" lengthAdjust="spacingAndGlyphs">2000</text>
<line x1="255.3" y1="352.5" x2="260.3" y2="352.5" stroke="#333" stroke-width="1"/>
<text x="252.8" y="355.05" text-anchor="end" font-size="8.34" textLength="17.51" lengthAdjust="spacingAndGlyphs">3000</text>
<line x1="255.3" y1="320.5" x2="260.3" y2="320.5" stroke="#333" stroke-width="1"/>
<text x="252.8" y="323.6" text-anchor="end" font-size="8.34" textLength="17.51" lengthAdjust="spacingAndGlyphs">4000</text>
<text x="254.3" y="449.4" text-anchor="end" font-size="8.34" textLength="4.38" lengthAdjust="spacingAndGlyphs">0</text>
<line x1="276.5" y1="446.6" x2="276.5" y2="451.6" stroke="#333" stroke-width="1"/>
<line x1="300.5" y1="446.6" x2="300.5" y2="451.6" stroke="#333" stroke-width="1"/>
<text x="286" y="307" text-anchor="middle" font-size="8.27" textLength="52.3" lengthAdjust="spacingAndGlyphs">120h post-drug</text>
<text x="286" y="315.8" text-anchor="middle" font-size="8.27" textLength="32.95" lengthAdjust="spacingAndGlyphs">treatment</text>
<text x="227.8" y="383.2" text-anchor="middle" font-size="8.27" textLength="47.5" lengthAdjust="spacingAndGlyphs" transform="rotate(-90 227.8 383.2)">CCL18 (pg/ml)</text>
<line x1="276" y1="409.7" x2="300.3" y2="411.6" stroke="#222" stroke-width="0.9"/>
<line x1="276" y1="419.5" x2="300.3" y2="403.6" stroke="#222" stroke-width="0.9"/>
<line x1="276" y1="419.5" x2="300.3" y2="352.3" stroke="#222" stroke-width="0.9"/>
<circle cx="276" cy="409.7" r="1.8" fill="#3558c4"/>
<circle cx="276" cy="418.6" r="1.8" fill="#3558c4"/>
<circle cx="276" cy="421" r="1.8" fill="#3558c4"/>
<circle cx="300.3" cy="352.3" r="1.8" fill="#e8401e"/>
<circle cx="300.3" cy="403.6" r="1.8" fill="#e8401e"/>
<circle cx="300.3" cy="411.6" r="1.8" fill="#e8401e"/>
<text x="278.8" y="458.5" text-anchor="end" font-size="8.27" textLength="34.25" lengthAdjust="spacingAndGlyphs" transform="rotate(-45 278.8 458.5)">Untreated</text>
<text x="304.2" y="457.6" text-anchor="end" font-size="8.27" textLength="30.9" lengthAdjust="spacingAndGlyphs" transform="rotate(-45 304.2 457.6)">UNC0642</text>
<text x="330" y="247.1" font-size="18" fill="#000">F</text>
<line x1="458.5" y1="244.8" x2="458.5" y2="460.2" stroke="#333" stroke-width="1"/>
<line x1="458.7" y1="459.5" x2="679.3" y2="459.5" stroke="#333" stroke-width="1"/>
<line x1="459.5" y1="459.7" x2="459.5" y2="463.2" stroke="#333" stroke-width="1"/>
<text x="459.1" y="472.7" text-anchor="middle" font-size="8.27" textLength="13.44" lengthAdjust="spacingAndGlyphs">-1.0</text>
<line x1="503.5" y1="459.7" x2="503.5" y2="463.2" stroke="#333" stroke-width="1"/>
<text x="503.25" y="472.7" text-anchor="middle" font-size="8.27" textLength="13.44" lengthAdjust="spacingAndGlyphs">-0.5</text>
<line x1="547.5" y1="459.7" x2="547.5" y2="463.2" stroke="#333" stroke-width="1"/>
<text x="547.4" y="472.7" text-anchor="middle" font-size="8.27" textLength="10.84" lengthAdjust="spacingAndGlyphs">0.0</text>
<line x1="591.5" y1="459.7" x2="591.5" y2="463.2" stroke="#333" stroke-width="1"/>
<text x="591.55" y="472.7" text-anchor="middle" font-size="8.27" textLength="10.84" lengthAdjust="spacingAndGlyphs">0.5</text>
<line x1="635.5" y1="459.7" x2="635.5" y2="463.2" stroke="#333" stroke-width="1"/>
<text x="635.7" y="472.7" text-anchor="middle" font-size="8.27" textLength="10.84" lengthAdjust="spacingAndGlyphs">1.0</text>
<line x1="679.5" y1="459.7" x2="679.5" y2="463.2" stroke="#333" stroke-width="1"/>
<text x="679.85" y="472.7" text-anchor="middle" font-size="8.27" textLength="10.84" lengthAdjust="spacingAndGlyphs">1.5</text>
<text x="544.6" y="486" text-anchor="middle" font-size="8.27" textLength="97" lengthAdjust="spacingAndGlyphs">Score change from untreated</text>
<line x1="547.5" y1="244.8" x2="547.5" y2="459.7" stroke="#777" stroke-width="0.7" stroke-dasharray="0.8 1.6"/>
<line x1="450.7" y1="253.5" x2="458.7" y2="253.5" stroke="#333" stroke-width="1"/>
<text x="447.3" y="255.7" text-anchor="end" font-size="8.34" textLength="90.55" lengthAdjust="spacingAndGlyphs">Oxidative phosphorylation</text>
<rect x="504.5" y="249.5" width="54" height="7" fill="#fff" stroke="#222" stroke-width="0.9"/>
<line x1="537.5" y1="249.8" x2="537.5" y2="256.2" stroke="#222" stroke-width="0.9"/>
<line x1="450.7" y1="263.5" x2="458.7" y2="263.5" stroke="#333" stroke-width="1"/>
<text x="447.3" y="266.23" text-anchor="end" font-size="8.34" textLength="13.56" lengthAdjust="spacingAndGlyphs">Th1</text>
<rect x="538.5" y="260.5" width="3" height="6" fill="#fff" stroke="#222" stroke-width="0.9"/>
<line x1="450.7" y1="274.5" x2="458.7" y2="274.5" stroke="#333" stroke-width="1"/>
<text x="447.3" y="276.76" text-anchor="end" font-size="8.34" textLength="25.8" lengthAdjust="spacingAndGlyphs">Toxicity</text>
<rect x="509.5" y="270.5" width="74" height="7" fill="#fff" stroke="#222" stroke-width="0.9"/>
<line x1="528.5" y1="270.86" x2="528.5" y2="277.26" stroke="#222" stroke-width="0.9"/>
<line x1="450.7" y1="284.5" x2="458.7" y2="284.5" stroke="#333" stroke-width="1"/>
<text x="447.3" y="287.29" text-anchor="end" font-size="8.34" textLength="35.57" lengthAdjust="spacingAndGlyphs">JAK STAT</text>
<rect x="509.5" y="281.5" width="58" height="6" fill="#fff" stroke="#222" stroke-width="0.9"/>
<line x1="546.5" y1="281.39" x2="546.5" y2="287.79" stroke="#222" stroke-width="0.9"/>
<line x1="450.7" y1="295.5" x2="458.7" y2="295.5" stroke="#333" stroke-width="1"/>
<text x="447.3" y="297.82" text-anchor="end" font-size="8.34" textLength="92.3" lengthAdjust="spacingAndGlyphs">Type II interferon signaling</text>
<rect x="540.5" y="291.5" width="4" height="7" fill="#ccc" stroke="#222" stroke-width="0.9"/>
<line x1="450.7" y1="305.5" x2="458.7" y2="305.5" stroke="#333" stroke-width="1"/>
<text x="447.3" y="308.35" text-anchor="end" font-size="8.34" textLength="90.11" lengthAdjust="spacingAndGlyphs">Type I interferon signaling</text>
<rect x="522.5" y="302.5" width="44" height="6" fill="#fff" stroke="#222" stroke-width="0.9"/>
<line x1="542.5" y1="302.45" x2="542.5" y2="308.85" stroke="#222" stroke-width="0.9"/>
<line x1="450.7" y1="316.5" x2="458.7" y2="316.5" stroke="#333" stroke-width="1"/>
<text x="447.3" y="318.88" text-anchor="end" font-size="8.34" textLength="13.56" lengthAdjust="spacingAndGlyphs">Th9</text>
<rect x="507.5" y="312.5" width="77" height="7" fill="#fff" stroke="#222" stroke-width="0.9"/>
<line x1="547.5" y1="312.98" x2="547.5" y2="319.38" stroke="#222" stroke-width="0.9"/>
<line x1="450.7" y1="326.5" x2="458.7" y2="326.5" stroke="#333" stroke-width="1"/>
<text x="447.3" y="329.41" text-anchor="end" font-size="8.34" textLength="33.24" lengthAdjust="spacingAndGlyphs">TGF beta</text>
<rect x="548.5" y="323.5" width="10" height="6" fill="#fff" stroke="#222" stroke-width="0.9"/>
<line x1="551.5" y1="323.51" x2="551.5" y2="329.91" stroke="#222" stroke-width="0.9"/>
<line x1="450.7" y1="337.5" x2="458.7" y2="337.5" stroke="#333" stroke-width="1"/>
<text x="447.3" y="339.94" text-anchor="end" font-size="8.34" textLength="40.24" lengthAdjust="spacingAndGlyphs">Metabolism</text>
<rect x="534.5" y="334.5" width="31" height="6" fill="#fff" stroke="#222" stroke-width="0.9"/>
<line x1="560.5" y1="334.04" x2="560.5" y2="340.44" stroke="#222" stroke-width="0.9"/>
<line x1="450.7" y1="347.5" x2="458.7" y2="347.5" stroke="#333" stroke-width="1"/>
<text x="447.3" y="350.47" text-anchor="end" font-size="8.34" textLength="89.52" lengthAdjust="spacingAndGlyphs">T cell exhaustion markers</text>
<rect x="538.5" y="344.5" width="37" height="6" fill="#fff" stroke="#222" stroke-width="0.9"/>
<line x1="554.5" y1="344.57" x2="554.5" y2="350.97" stroke="#222" stroke-width="0.9"/>
<line x1="450.7" y1="358.5" x2="458.7" y2="358.5" stroke="#333" stroke-width="1"/>
<text x="447.3" y="361" text-anchor="end" font-size="8.34" textLength="41.12" lengthAdjust="spacingAndGlyphs">Persistence</text>
<rect x="540.5" y="355.5" width="24" height="6" fill="#fff" stroke="#222" stroke-width="0.9"/>
<line x1="450.7" y1="368.5" x2="458.7" y2="368.5" stroke="#333" stroke-width="1"/>
<text x="447.3" y="371.53" text-anchor="end" font-size="8.34" textLength="53.21" lengthAdjust="spacingAndGlyphs">T cell migration</text>
<rect x="540.5" y="365.5" width="24" height="7" fill="#fff" stroke="#222" stroke-width="0.9"/>
<line x1="450.7" y1="379.5" x2="458.7" y2="379.5" stroke="#333" stroke-width="1"/>
<text x="447.3" y="382.06" text-anchor="end" font-size="8.34" textLength="83.54" lengthAdjust="spacingAndGlyphs">One carbon metabolism</text>
<rect x="548.5" y="376.5" width="21" height="6" fill="#fff" stroke="#222" stroke-width="0.9"/>
<line x1="558.5" y1="376.16" x2="558.5" y2="382.56" stroke="#222" stroke-width="0.9"/>
<line x1="450.7" y1="389.5" x2="458.7" y2="389.5" stroke="#333" stroke-width="1"/>
<text x="447.3" y="392.59" text-anchor="end" font-size="8.34" textLength="78.29" lengthAdjust="spacingAndGlyphs">Glutamine metabolism</text>
<rect x="548.5" y="386.5" width="35" height="7" fill="#fff" stroke="#222" stroke-width="0.9"/>
<line x1="562.5" y1="386.69" x2="562.5" y2="393.09" stroke="#222" stroke-width="0.9"/>
<line x1="450.7" y1="400.5" x2="458.7" y2="400.5" stroke="#333" stroke-width="1"/>
<text x="447.3" y="403.12" text-anchor="end" font-size="8.34" textLength="35.42" lengthAdjust="spacingAndGlyphs">Glycolysis</text>
<rect x="554.5" y="397.5" width="16" height="6" fill="#fff" stroke="#222" stroke-width="0.9"/>
<line x1="569.5" y1="397.22" x2="569.5" y2="403.62" stroke="#222" stroke-width="0.9"/>
<line x1="450.7" y1="410.5" x2="458.7" y2="410.5" stroke="#333" stroke-width="1"/>
<text x="447.3" y="413.65" text-anchor="end" font-size="8.34" textLength="15.89" lengthAdjust="spacingAndGlyphs">Treg</text>
<rect x="552.5" y="407.5" width="35" height="7" fill="#fff" stroke="#222" stroke-width="0.9"/>
<line x1="576.5" y1="407.75" x2="576.5" y2="414.15" stroke="#222" stroke-width="0.9"/>
<line x1="450.7" y1="421.5" x2="458.7" y2="421.5" stroke="#333" stroke-width="1"/>
<text x="447.3" y="424.18" text-anchor="end" font-size="8.34" textLength="17.94" lengthAdjust="spacingAndGlyphs">Th17</text>
<rect x="553.5" y="418.5" width="50" height="6" fill="#fff" stroke="#222" stroke-width="0.9"/>
<line x1="563.5" y1="418.28" x2="563.5" y2="424.68" stroke="#222" stroke-width="0.9"/>
<line x1="450.7" y1="432.5" x2="458.7" y2="432.5" stroke="#333" stroke-width="1"/>
<text x="447.3" y="434.71" text-anchor="end" font-size="8.34" textLength="60.51" lengthAdjust="spacingAndGlyphs">Innate like T cells</text>
<rect x="575.5" y="428.5" width="7" height="7" fill="#fff" stroke="#222" stroke-width="0.9"/>
<line x1="580.5" y1="428.81" x2="580.5" y2="435.21" stroke="#222" stroke-width="0.9"/>
<line x1="450.7" y1="442.5" x2="458.7" y2="442.5" stroke="#333" stroke-width="1"/>
<text x="447.3" y="445.24" text-anchor="end" font-size="8.34" textLength="40.23" lengthAdjust="spacingAndGlyphs">Cytotoxicity</text>
<rect x="591.5" y="439.5" width="4" height="6" fill="#fff" stroke="#222" stroke-width="0.9"/>
<line x1="593.5" y1="439.34" x2="593.5" y2="445.74" stroke="#222" stroke-width="0.9"/>
<line x1="450.7" y1="453.5" x2="458.7" y2="453.5" stroke="#333" stroke-width="1"/>
<text x="447.3" y="455.77" text-anchor="end" font-size="8.34" textLength="13.56" lengthAdjust="spacingAndGlyphs">Th2</text>
<rect x="605.5" y="449.5" width="67" height="7" fill="#fff" stroke="#222" stroke-width="0.9"/>
<line x1="664.5" y1="449.87" x2="664.5" y2="456.27" stroke="#222" stroke-width="0.9"/>
<text x="0.4" y="512.3" font-size="18" fill="#000">G</text>
<line x1="31.5" y1="534.4" x2="31.5" y2="621.6" stroke="#555" stroke-width="1"/>
<line x1="29.4" y1="621.5" x2="165" y2="621.5" stroke="#555" stroke-width="1"/>
<line x1="29.4" y1="592.5" x2="31.4" y2="592.5" stroke="#555" stroke-width="1"/>
<text x="29.4" y="595.03" text-anchor="end" font-size="8.32" textLength="13.1" lengthAdjust="spacingAndGlyphs">100</text>
<line x1="29.4" y1="563.5" x2="31.4" y2="563.5" stroke="#555" stroke-width="1"/>
<text x="29.4" y="566.16" text-anchor="end" font-size="8.32" textLength="13.1" lengthAdjust="spacingAndGlyphs">200</text>
<line x1="29.4" y1="534.5" x2="31.4" y2="534.5" stroke="#555" stroke-width="1"/>
<text x="29.4" y="537.29" text-anchor="end" font-size="8.32" textLength="13.1" lengthAdjust="spacingAndGlyphs">300</text>
<text x="26.4" y="623.9" text-anchor="end" font-size="8.32" textLength="4.37" lengthAdjust="spacingAndGlyphs">0</text>
<line x1="31.5" y1="621.1" x2="31.5" y2="623.1" stroke="#555" stroke-width="1"/>
<text x="31.4" y="630" text-anchor="middle" font-size="8.32" textLength="4.37" lengthAdjust="spacingAndGlyphs">0</text>
<line x1="64.5" y1="621.1" x2="64.5" y2="623.1" stroke="#555" stroke-width="1"/>
<text x="64.77" y="630" text-anchor="middle" font-size="8.32" textLength="8.73" lengthAdjust="spacingAndGlyphs">20</text>
<line x1="98.5" y1="621.1" x2="98.5" y2="623.1" stroke="#555" stroke-width="1"/>
<text x="98.14" y="630" text-anchor="middle" font-size="8.32" textLength="8.73" lengthAdjust="spacingAndGlyphs">40</text>
<line x1="131.5" y1="621.1" x2="131.5" y2="623.1" stroke="#555" stroke-width="1"/>
<text x="131.51" y="630" text-anchor="middle" font-size="8.32" textLength="8.73" lengthAdjust="spacingAndGlyphs">60</text>
<line x1="164.5" y1="621.1" x2="164.5" y2="623.1" stroke="#555" stroke-width="1"/>
<text x="164.88" y="630" text-anchor="middle" font-size="8.32" textLength="8.73" lengthAdjust="spacingAndGlyphs">80</text>
<text x="97.7" y="641.8" text-anchor="middle" font-size="8.27" textLength="50.2" lengthAdjust="spacingAndGlyphs">Time (minutes)</text>
<text x="11.4" y="578.2" text-anchor="middle" font-size="8.27" textLength="55.6" lengthAdjust="spacingAndGlyphs" transform="rotate(-90 11.4 578.2)">OCR (pmol/min)</text>
<polyline points="33.3,583.7 44.6,584.9 55.3,585.2 67.1,609 77.9,608.5 88.5,608.5 100.1,569.3 111.2,569.3 122.2,570.7 133.5,615.5 144.8,615 155.7,615" fill="none" stroke="#3a5bc6" stroke-width="1.3" stroke-linejoin="round"/>
<line x1="33.5" y1="581.2" x2="33.5" y2="586.2" stroke="#3a5bc6" stroke-width="0.9"/>
<line x1="31.1" y1="581.5" x2="35.5" y2="581.5" stroke="#3a5bc6" stroke-width="0.9"/>
<line x1="31.1" y1="586.5" x2="35.5" y2="586.5" stroke="#3a5bc6" stroke-width="0.9"/>
<circle cx="33.3" cy="583.7" r="1.3" fill="#3a5bc6"/>
<line x1="44.5" y1="582.7" x2="44.5" y2="587.1" stroke="#3a5bc6" stroke-width="0.9"/>
<line x1="42.4" y1="582.5" x2="46.8" y2="582.5" stroke="#3a5bc6" stroke-width="0.9"/>
<line x1="42.4" y1="587.5" x2="46.8" y2="587.5" stroke="#3a5bc6" stroke-width="0.9"/>
<circle cx="44.6" cy="584.9" r="1.3" fill="#3a5bc6"/>
<line x1="55.5" y1="583" x2="55.5" y2="587.4" stroke="#3a5bc6" stroke-width="0.9"/>
<line x1="53.1" y1="583.5" x2="57.5" y2="583.5" stroke="#3a5bc6" stroke-width="0.9"/>
<line x1="53.1" y1="587.5" x2="57.5" y2="587.5" stroke="#3a5bc6" stroke-width="0.9"/>
<circle cx="55.3" cy="585.2" r="1.3" fill="#3a5bc6"/>
<line x1="67.5" y1="607.8" x2="67.5" y2="610.2" stroke="#3a5bc6" stroke-width="0.9"/>
<line x1="64.9" y1="607.5" x2="69.3" y2="607.5" stroke="#3a5bc6" stroke-width="0.9"/>
<line x1="64.9" y1="610.5" x2="69.3" y2="610.5" stroke="#3a5bc6" stroke-width="0.9"/>
<circle cx="67.1" cy="609" r="1.3" fill="#3a5bc6"/>
<line x1="77.5" y1="607.3" x2="77.5" y2="609.7" stroke="#3a5bc6" stroke-width="0.9"/>
<line x1="75.7" y1="607.5" x2="80.1" y2="607.5" stroke="#3a5bc6" stroke-width="0.9"/>
<line x1="75.7" y1="609.5" x2="80.1" y2="609.5" stroke="#3a5bc6" stroke-width="0.9"/>
<circle cx="77.9" cy="608.5" r="1.3" fill="#3a5bc6"/>
<line x1="88.5" y1="607.3" x2="88.5" y2="609.7" stroke="#3a5bc6" stroke-width="0.9"/>
<line x1="86.3" y1="607.5" x2="90.7" y2="607.5" stroke="#3a5bc6" stroke-width="0.9"/>
<line x1="86.3" y1="609.5" x2="90.7" y2="609.5" stroke="#3a5bc6" stroke-width="0.9"/>
<circle cx="88.5" cy="608.5" r="1.3" fill="#3a5bc6"/>
<line x1="100.5" y1="566.1" x2="100.5" y2="572.5" stroke="#3a5bc6" stroke-width="0.9"/>
<line x1="97.9" y1="566.5" x2="102.3" y2="566.5" stroke="#3a5bc6" stroke-width="0.9"/>
<line x1="97.9" y1="572.5" x2="102.3" y2="572.5" stroke="#3a5bc6" stroke-width="0.9"/>
<circle cx="100.1" cy="569.3" r="1.3" fill="#3a5bc6"/>
<line x1="111.5" y1="566.1" x2="111.5" y2="572.5" stroke="#3a5bc6" stroke-width="0.9"/>
<line x1="109" y1="566.5" x2="113.4" y2="566.5" stroke="#3a5bc6" stroke-width="0.9"/>
<line x1="109" y1="572.5" x2="113.4" y2="572.5" stroke="#3a5bc6" stroke-width="0.9"/>
<circle cx="111.2" cy="569.3" r="1.3" fill="#3a5bc6"/>
<line x1="122.5" y1="567.5" x2="122.5" y2="573.9" stroke="#3a5bc6" stroke-width="0.9"/>
<line x1="120" y1="567.5" x2="124.4" y2="567.5" stroke="#3a5bc6" stroke-width="0.9"/>
<line x1="120" y1="573.5" x2="124.4" y2="573.5" stroke="#3a5bc6" stroke-width="0.9"/>
<circle cx="122.2" cy="570.7" r="1.3" fill="#3a5bc6"/>
<line x1="133.5" y1="614.5" x2="133.5" y2="616.5" stroke="#3a5bc6" stroke-width="0.9"/>
<line x1="131.3" y1="614.5" x2="135.7" y2="614.5" stroke="#3a5bc6" stroke-width="0.9"/>
<line x1="131.3" y1="616.5" x2="135.7" y2="616.5" stroke="#3a5bc6" stroke-width="0.9"/>
<circle cx="133.5" cy="615.5" r="1.3" fill="#3a5bc6"/>
<line x1="144.5" y1="614" x2="144.5" y2="616" stroke="#3a5bc6" stroke-width="0.9"/>
<line x1="142.6" y1="614.5" x2="147" y2="614.5" stroke="#3a5bc6" stroke-width="0.9"/>
<line x1="142.6" y1="616.5" x2="147" y2="616.5" stroke="#3a5bc6" stroke-width="0.9"/>
<circle cx="144.8" cy="615" r="1.3" fill="#3a5bc6"/>
<line x1="155.5" y1="614" x2="155.5" y2="616" stroke="#3a5bc6" stroke-width="0.9"/>
<line x1="153.5" y1="614.5" x2="157.9" y2="614.5" stroke="#3a5bc6" stroke-width="0.9"/>
<line x1="153.5" y1="616.5" x2="157.9" y2="616.5" stroke="#3a5bc6" stroke-width="0.9"/>
<circle cx="155.7" cy="615" r="1.3" fill="#3a5bc6"/>
<polyline points="33.3,576.2 44.6,578.2 55.3,578.5 67.1,606.8 77.9,606.5 88.5,606.5 100.1,550.7 111.2,550.7 122.2,553.3 133.5,615 144.8,613.8 155.7,614.1" fill="none" stroke="#e8402a" stroke-width="1.3" stroke-linejoin="round"/>
<line x1="33.5" y1="573.4" x2="33.5" y2="579" stroke="#e8402a" stroke-width="0.9"/>
<line x1="31.1" y1="573.5" x2="35.5" y2="573.5" stroke="#e8402a" stroke-width="0.9"/>
<line x1="31.1" y1="579.5" x2="35.5" y2="579.5" stroke="#e8402a" stroke-width="0.9"/>
<circle cx="33.3" cy="576.2" r="1.3" fill="#e8402a"/>
<line x1="44.5" y1="575.7" x2="44.5" y2="580.7" stroke="#e8402a" stroke-width="0.9"/>
<line x1="42.4" y1="575.5" x2="46.8" y2="575.5" stroke="#e8402a" stroke-width="0.9"/>
<line x1="42.4" y1="580.5" x2="46.8" y2="580.5" stroke="#e8402a" stroke-width="0.9"/>
<circle cx="44.6" cy="578.2" r="1.3" fill="#e8402a"/>
<line x1="55.5" y1="576" x2="55.5" y2="581" stroke="#e8402a" stroke-width="0.9"/>
<line x1="53.1" y1="576.5" x2="57.5" y2="576.5" stroke="#e8402a" stroke-width="0.9"/>
<line x1="53.1" y1="581.5" x2="57.5" y2="581.5" stroke="#e8402a" stroke-width="0.9"/>
<circle cx="55.3" cy="578.5" r="1.3" fill="#e8402a"/>
<line x1="67.5" y1="605.6" x2="67.5" y2="608" stroke="#e8402a" stroke-width="0.9"/>
<line x1="64.9" y1="605.5" x2="69.3" y2="605.5" stroke="#e8402a" stroke-width="0.9"/>
<line x1="64.9" y1="608.5" x2="69.3" y2="608.5" stroke="#e8402a" stroke-width="0.9"/>
<circle cx="67.1" cy="606.8" r="1.3" fill="#e8402a"/>
<line x1="77.5" y1="605.3" x2="77.5" y2="607.7" stroke="#e8402a" stroke-width="0.9"/>
<line x1="75.7" y1="605.5" x2="80.1" y2="605.5" stroke="#e8402a" stroke-width="0.9"/>
<line x1="75.7" y1="607.5" x2="80.1" y2="607.5" stroke="#e8402a" stroke-width="0.9"/>
<circle cx="77.9" cy="606.5" r="1.3" fill="#e8402a"/>
<line x1="88.5" y1="605.3" x2="88.5" y2="607.7" stroke="#e8402a" stroke-width="0.9"/>
<line x1="86.3" y1="605.5" x2="90.7" y2="605.5" stroke="#e8402a" stroke-width="0.9"/>
<line x1="86.3" y1="607.5" x2="90.7" y2="607.5" stroke="#e8402a" stroke-width="0.9"/>
<circle cx="88.5" cy="606.5" r="1.3" fill="#e8402a"/>
<line x1="100.5" y1="547.5" x2="100.5" y2="553.9" stroke="#e8402a" stroke-width="0.9"/>
<line x1="97.9" y1="547.5" x2="102.3" y2="547.5" stroke="#e8402a" stroke-width="0.9"/>
<line x1="97.9" y1="553.5" x2="102.3" y2="553.5" stroke="#e8402a" stroke-width="0.9"/>
<circle cx="100.1" cy="550.7" r="1.3" fill="#e8402a"/>
<line x1="111.5" y1="547.5" x2="111.5" y2="553.9" stroke="#e8402a" stroke-width="0.9"/>
<line x1="109" y1="547.5" x2="113.4" y2="547.5" stroke="#e8402a" stroke-width="0.9"/>
<line x1="109" y1="553.5" x2="113.4" y2="553.5" stroke="#e8402a" stroke-width="0.9"/>
<circle cx="111.2" cy="550.7" r="1.3" fill="#e8402a"/>
<line x1="122.5" y1="550.1" x2="122.5" y2="556.5" stroke="#e8402a" stroke-width="0.9"/>
<line x1="120" y1="550.5" x2="124.4" y2="550.5" stroke="#e8402a" stroke-width="0.9"/>
<line x1="120" y1="556.5" x2="124.4" y2="556.5" stroke="#e8402a" stroke-width="0.9"/>
<circle cx="122.2" cy="553.3" r="1.3" fill="#e8402a"/>
<line x1="133.5" y1="614" x2="133.5" y2="616" stroke="#e8402a" stroke-width="0.9"/>
<line x1="131.3" y1="614.5" x2="135.7" y2="614.5" stroke="#e8402a" stroke-width="0.9"/>
<line x1="131.3" y1="616.5" x2="135.7" y2="616.5" stroke="#e8402a" stroke-width="0.9"/>
<circle cx="133.5" cy="615" r="1.3" fill="#e8402a"/>
<line x1="144.5" y1="612.8" x2="144.5" y2="614.8" stroke="#e8402a" stroke-width="0.9"/>
<line x1="142.6" y1="612.5" x2="147" y2="612.5" stroke="#e8402a" stroke-width="0.9"/>
<line x1="142.6" y1="614.5" x2="147" y2="614.5" stroke="#e8402a" stroke-width="0.9"/>
<circle cx="144.8" cy="613.8" r="1.3" fill="#e8402a"/>
<line x1="155.5" y1="613.1" x2="155.5" y2="615.1" stroke="#e8402a" stroke-width="0.9"/>
<line x1="153.5" y1="613.5" x2="157.9" y2="613.5" stroke="#e8402a" stroke-width="0.9"/>
<line x1="153.5" y1="615.5" x2="157.9" y2="615.5" stroke="#e8402a" stroke-width="0.9"/>
<circle cx="155.7" cy="614.1" r="1.3" fill="#e8402a"/>
<line x1="46.8" y1="517" x2="54.4" y2="517" stroke="#3a5bc6" stroke-width="1.3"/>
<circle cx="50.6" cy="517" r="1.3" fill="#3a5bc6"/>
<text x="56.3" y="519.8" font-size="8.69" textLength="33.7" lengthAdjust="spacingAndGlyphs">Untreated</text>
<line x1="95.9" y1="517" x2="103.8" y2="517" stroke="#e8402a" stroke-width="1.3"/>
<circle cx="99.9" cy="517" r="1.3" fill="#e8402a"/>
<text x="105.2" y="519.8" font-size="8.69" textLength="34.1" lengthAdjust="spacingAndGlyphs">UNC0642</text>
<text x="63.4" y="564.6" text-anchor="middle" font-size="8.27" textLength="36.9" lengthAdjust="spacingAndGlyphs">Oligomycin</text>
<text x="92.7" y="540.2" text-anchor="middle" font-size="8.27" textLength="20.5" lengthAdjust="spacingAndGlyphs">FCCP</text>
<text x="109.5" y="531" font-size="8.27" textLength="37.9" lengthAdjust="spacingAndGlyphs">Rotenone +</text>
<text x="109.5" y="540.2" font-size="8.27" textLength="41.4" lengthAdjust="spacingAndGlyphs">Antimycin A</text>
<line x1="63.5" y1="567.4" x2="63.5" y2="572.7" stroke="#111" stroke-width="0.8"/>
<path d="M61.9 571.8L64.7 571.8L63.3 574.2Z" fill="#111"/>
<line x1="93.5" y1="542.6" x2="93.5" y2="547.7" stroke="#111" stroke-width="0.8"/>
<path d="M91.7 546.8L94.5 546.8L93.1 549.2Z" fill="#111"/>
<line x1="128.5" y1="542.6" x2="128.5" y2="547.7" stroke="#111" stroke-width="0.8"/>
<path d="M126.9 546.8L129.7 546.8L128.3 549.2Z" fill="#111"/>
<line x1="201.5" y1="545.8" x2="201.5" y2="621.3" stroke="#555" stroke-width="1"/>
<line x1="200.2" y1="620.5" x2="313.5" y2="620.5" stroke="#555" stroke-width="1"/>
<line x1="200.2" y1="595.5" x2="201.7" y2="595.5" stroke="#555" stroke-width="1"/>
<text x="200.2" y="598.73" text-anchor="end" font-size="7.95" textLength="12.51" lengthAdjust="spacingAndGlyphs">100</text>
<line x1="200.2" y1="571.5" x2="201.7" y2="571.5" stroke="#555" stroke-width="1"/>
<text x="200.2" y="573.86" text-anchor="end" font-size="7.95" textLength="12.51" lengthAdjust="spacingAndGlyphs">200</text>
<line x1="200.2" y1="546.5" x2="201.7" y2="546.5" stroke="#555" stroke-width="1"/>
<text x="200.2" y="548.99" text-anchor="end" font-size="7.95" textLength="12.51" lengthAdjust="spacingAndGlyphs">300</text>
<text x="198.6" y="623.6" text-anchor="end" font-size="7.95" textLength="4.17" lengthAdjust="spacingAndGlyphs">0</text>
<text x="186.3" y="582.5" text-anchor="middle" font-size="8.27" textLength="54.7" lengthAdjust="spacingAndGlyphs" transform="rotate(-90 186.3 582.5)">OCR (pmol/min)</text>
<line x1="211.5" y1="600.8" x2="211.5" y2="598.8" stroke="#333" stroke-width="0.9"/>
<line x1="208.55" y1="598.5" x2="214.95" y2="598.5" stroke="#333" stroke-width="0.9"/>
<rect x="205.5" y="600.5" width="12" height="20" fill="#4652aa" stroke="#222" stroke-width="0.9"/>
<line x1="227.5" y1="596.6" x2="227.5" y2="594.6" stroke="#333" stroke-width="0.9"/>
<line x1="224.25" y1="594.5" x2="230.65" y2="594.5" stroke="#333" stroke-width="0.9"/>
<rect x="221.5" y="596.5" width="12" height="24" fill="#e02a12" stroke="#222" stroke-width="0.9"/>
<line x1="250.5" y1="582.5" x2="250.5" y2="579.4" stroke="#333" stroke-width="0.9"/>
<line x1="247.05" y1="579.5" x2="253.45" y2="579.5" stroke="#333" stroke-width="0.9"/>
<rect x="244.5" y="582.5" width="12" height="38" fill="#4652aa" stroke="#222" stroke-width="0.9"/>
<line x1="265.5" y1="567.8" x2="265.5" y2="565.2" stroke="#333" stroke-width="0.9"/>
<line x1="262.7" y1="565.5" x2="269.1" y2="565.5" stroke="#333" stroke-width="0.9"/>
<rect x="259.5" y="567.5" width="13" height="53" fill="#e02a12" stroke="#222" stroke-width="0.9"/>
<line x1="288.5" y1="608.4" x2="288.5" y2="606.3" stroke="#333" stroke-width="0.9"/>
<line x1="285.3" y1="606.5" x2="291.7" y2="606.5" stroke="#333" stroke-width="0.9"/>
<rect x="282.5" y="608.5" width="12" height="12" fill="#4652aa" stroke="#222" stroke-width="0.9"/>
<line x1="304.5" y1="599.1" x2="304.5" y2="596.2" stroke="#333" stroke-width="0.9"/>
<line x1="300.85" y1="596.5" x2="307.25" y2="596.5" stroke="#333" stroke-width="0.9"/>
<rect x="298.5" y="599.5" width="11" height="21" fill="#e02a12" stroke="#222" stroke-width="0.9"/>
<circle cx="211.4" cy="593.4" r="0.9" fill="#555"/>
<circle cx="210.4" cy="596.2" r="0.9" fill="#555"/>
<circle cx="212.6" cy="597.2" r="0.9" fill="#555"/>
<circle cx="227.7" cy="589" r="0.9" fill="#555"/>
<circle cx="225.2" cy="592" r="0.9" fill="#555"/>
<circle cx="229.9" cy="593" r="0.9" fill="#555"/>
<circle cx="249.5" cy="573.2" r="0.9" fill="#555"/>
<circle cx="248.3" cy="575.6" r="0.9" fill="#555"/>
<circle cx="250.7" cy="575.3" r="0.9" fill="#555"/>
<circle cx="265.5" cy="557.3" r="0.9" fill="#555"/>
<circle cx="264.6" cy="561" r="0.9" fill="#555"/>
<circle cx="267.1" cy="561" r="0.9" fill="#555"/>
<circle cx="266.3" cy="562.7" r="0.9" fill="#555"/>
<circle cx="288.1" cy="601.8" r="0.9" fill="#555"/>
<circle cx="288.1" cy="603.8" r="0.9" fill="#555"/>
<circle cx="302.7" cy="590.4" r="0.9" fill="#555"/>
<circle cx="305.4" cy="590.4" r="0.9" fill="#555"/>
<circle cx="303.7" cy="593.4" r="0.9" fill="#555"/>
<circle cx="211.4" cy="607.1" r="0.9" fill="rgba(90,90,90,0.75)"/>
<circle cx="211.4" cy="611.3" r="0.9" fill="rgba(90,90,90,0.75)"/>
<circle cx="208" cy="600.5" r="0.9" fill="rgba(90,90,90,0.75)"/>
<circle cx="214" cy="600.5" r="0.9" fill="rgba(90,90,90,0.75)"/>
<circle cx="225.2" cy="601.3" r="0.9" fill="rgba(90,90,90,0.75)"/>
<circle cx="229.9" cy="601.3" r="0.9" fill="rgba(90,90,90,0.75)"/>
<circle cx="227.7" cy="605.5" r="0.9" fill="rgba(90,90,90,0.75)"/>
<circle cx="250.3" cy="584.5" r="0.9" fill="rgba(90,90,90,0.75)"/>
<circle cx="249.5" cy="594.6" r="0.9" fill="rgba(90,90,90,0.75)"/>
<circle cx="246" cy="585" r="0.9" fill="rgba(90,90,90,0.75)"/>
<circle cx="253" cy="584" r="0.9" fill="rgba(90,90,90,0.75)"/>
<circle cx="263.8" cy="571.9" r="0.9" fill="rgba(90,90,90,0.75)"/>
<circle cx="267.1" cy="571.9" r="0.9" fill="rgba(90,90,90,0.75)"/>
<circle cx="263.8" cy="576.1" r="0.9" fill="rgba(90,90,90,0.75)"/>
<circle cx="267.1" cy="576.1" r="0.9" fill="rgba(90,90,90,0.75)"/>
<circle cx="285.3" cy="613.9" r="0.9" fill="rgba(90,90,90,0.75)"/>
<circle cx="290.6" cy="612.5" r="0.9" fill="rgba(90,90,90,0.75)"/>
<circle cx="288.1" cy="610.5" r="0.9" fill="rgba(90,90,90,0.75)"/>
<circle cx="302.1" cy="599.6" r="0.9" fill="rgba(90,90,90,0.75)"/>
<circle cx="305.8" cy="601.3" r="0.9" fill="rgba(90,90,90,0.75)"/>
<circle cx="303.7" cy="608" r="0.9" fill="rgba(90,90,90,0.75)"/>
<line x1="219.5" y1="620.8" x2="219.5" y2="622.8" stroke="#222" stroke-width="1"/>
<line x1="257.5" y1="620.8" x2="257.5" y2="622.8" stroke="#222" stroke-width="1"/>
<line x1="296.5" y1="620.8" x2="296.5" y2="622.8" stroke="#222" stroke-width="1"/>
<rect x="213.5" y="516.5" width="9" height="6" fill="#4652aa" stroke="#222" stroke-width="0.8"/>
<text x="225.7" y="521.8" font-size="8.69" textLength="33.1" lengthAdjust="spacingAndGlyphs">Untreated</text>
<rect x="265.5" y="516.5" width="9" height="6" fill="#e02a12" stroke="#222" stroke-width="0.8"/>
<text x="277.7" y="521.8" font-size="8.69" textLength="33.7" lengthAdjust="spacingAndGlyphs">UNC0642</text>
<text x="258.2" y="532.9" text-anchor="middle" font-size="6.78" textLength="7.3" lengthAdjust="spacingAndGlyphs">p=</text>
<text x="258.05" y="541.4" text-anchor="middle" font-size="6.78" textLength="19.5" lengthAdjust="spacingAndGlyphs">0.0001</text>
<text x="258.4" y="551.5" text-anchor="middle" font-weight="bold" font-size="11.3" textLength="13" lengthAdjust="spacingAndGlyphs">***</text>
<path d="M250 553.2V551.4H265.8V553.2" fill="none" stroke="#555" stroke-width="0.7"/>
<text x="295.9" y="586.9" text-anchor="middle" font-weight="bold" font-size="11.3">*</text>
<path d="M288.1 589.6V587.8H304.1V589.6" fill="none" stroke="#555" stroke-width="0.7"/>
<text x="220.8" y="629.6" text-anchor="end" font-size="8.27" textLength="37.57" lengthAdjust="spacingAndGlyphs" transform="rotate(-45 220.8 629.6)">ATP-linked</text>
<text x="227.5" y="635.5" text-anchor="end" font-size="8.27" textLength="36.42" lengthAdjust="spacingAndGlyphs" transform="rotate(-45 227.5 635.5)">respiration</text>
<text x="261.6" y="630.4" text-anchor="end" font-size="8.27" textLength="29.04" lengthAdjust="spacingAndGlyphs" transform="rotate(-45 261.6 630.4)">Maximal</text>
<text x="268.5" y="635.5" text-anchor="end" font-size="8.27" textLength="36.42" lengthAdjust="spacingAndGlyphs" transform="rotate(-45 268.5 635.5)">respiration</text>
<text x="296.3" y="630.6" text-anchor="end" font-size="8.27" textLength="20.81" lengthAdjust="spacingAndGlyphs" transform="rotate(-45 296.3 630.6)">Spare</text>
<text x="304.2" y="635.5" text-anchor="end" font-size="8.27" textLength="28.61" lengthAdjust="spacingAndGlyphs" transform="rotate(-45 304.2 635.5)">capacity</text>
<text x="348.5" y="512.5" font-size="18" fill="#000">H</text>
<line x1="389.5" y1="532.5" x2="389.5" y2="620.1" stroke="#555" stroke-width="1"/>
<line x1="387.3" y1="619.5" x2="522.3" y2="619.5" stroke="#555" stroke-width="1"/>
<line x1="387.3" y1="602.5" x2="389.3" y2="602.5" stroke="#555" stroke-width="1"/>
<text x="386.5" y="604.98" text-anchor="end" font-size="8.27" textLength="8.68" lengthAdjust="spacingAndGlyphs">20</text>
<line x1="387.3" y1="584.5" x2="389.3" y2="584.5" stroke="#555" stroke-width="1"/>
<text x="386.5" y="587.56" text-anchor="end" font-size="8.27" textLength="8.68" lengthAdjust="spacingAndGlyphs">40</text>
<line x1="387.3" y1="567.5" x2="389.3" y2="567.5" stroke="#555" stroke-width="1"/>
<text x="386.5" y="570.14" text-anchor="end" font-size="8.27" textLength="8.68" lengthAdjust="spacingAndGlyphs">60</text>
<line x1="387.3" y1="549.5" x2="389.3" y2="549.5" stroke="#555" stroke-width="1"/>
<text x="386.5" y="552.72" text-anchor="end" font-size="8.27" textLength="8.68" lengthAdjust="spacingAndGlyphs">80</text>
<line x1="387.3" y1="532.5" x2="389.3" y2="532.5" stroke="#555" stroke-width="1"/>
<text x="386.5" y="535.3" text-anchor="end" font-size="8.27" textLength="13.01" lengthAdjust="spacingAndGlyphs">100</text>
<text x="383.4" y="622.4" text-anchor="end" font-size="8.27" textLength="4.34" lengthAdjust="spacingAndGlyphs">0</text>
<line x1="389.5" y1="619.6" x2="389.5" y2="621.6" stroke="#555" stroke-width="1"/>
<text x="389.3" y="628.6" text-anchor="middle" font-size="8.27" textLength="4.34" lengthAdjust="spacingAndGlyphs">0</text>
<line x1="422.5" y1="619.6" x2="422.5" y2="621.6" stroke="#555" stroke-width="1"/>
<text x="422.8" y="628.6" text-anchor="middle" font-size="8.27" textLength="8.68" lengthAdjust="spacingAndGlyphs">20</text>
<line x1="456.5" y1="619.6" x2="456.5" y2="621.6" stroke="#555" stroke-width="1"/>
<text x="456.3" y="628.6" text-anchor="middle" font-size="8.27" textLength="8.68" lengthAdjust="spacingAndGlyphs">40</text>
<line x1="489.5" y1="619.6" x2="489.5" y2="621.6" stroke="#555" stroke-width="1"/>
<text x="489.8" y="628.6" text-anchor="middle" font-size="8.27" textLength="8.68" lengthAdjust="spacingAndGlyphs">60</text>
<line x1="522.5" y1="619.6" x2="522.5" y2="621.6" stroke="#555" stroke-width="1"/>
<text x="517.5" y="628.6" text-anchor="middle" font-size="8.27" textLength="8.68" lengthAdjust="spacingAndGlyphs">80</text>
<text x="460" y="635.6" text-anchor="middle" font-size="8.27" textLength="50.2" lengthAdjust="spacingAndGlyphs">Time (minutes)</text>
<text x="368" y="575.3" text-anchor="middle" font-size="8.27" textLength="58.5" lengthAdjust="spacingAndGlyphs" transform="rotate(-90 368 575.3)">ECAR (mpH/min)</text>
<polyline points="389.9,610.1 402.3,610.3 413.6,610.6 424.1,587.2 435.9,578.5 446.4,574.6 458.2,554.6 469.3,553.3 480,553.8 491.3,603.8 502.9,606.9 513.9,608.8" fill="none" stroke="#3a5bc6" stroke-width="1.3" stroke-linejoin="round"/>
<line x1="389.5" y1="608.9" x2="389.5" y2="611.3" stroke="#3a5bc6" stroke-width="0.9"/>
<line x1="387.7" y1="608.5" x2="392.1" y2="608.5" stroke="#3a5bc6" stroke-width="0.9"/>
<line x1="387.7" y1="611.5" x2="392.1" y2="611.5" stroke="#3a5bc6" stroke-width="0.9"/>
<circle cx="389.9" cy="610.1" r="1.3" fill="#3a5bc6"/>
<line x1="402.5" y1="608.8" x2="402.5" y2="611.8" stroke="#3a5bc6" stroke-width="0.9"/>
<line x1="400.1" y1="608.5" x2="404.5" y2="608.5" stroke="#3a5bc6" stroke-width="0.9"/>
<line x1="400.1" y1="611.5" x2="404.5" y2="611.5" stroke="#3a5bc6" stroke-width="0.9"/>
<circle cx="402.3" cy="610.3" r="1.3" fill="#3a5bc6"/>
<line x1="413.5" y1="609.6" x2="413.5" y2="611.6" stroke="#3a5bc6" stroke-width="0.9"/>
<line x1="411.4" y1="609.5" x2="415.8" y2="609.5" stroke="#3a5bc6" stroke-width="0.9"/>
<line x1="411.4" y1="611.5" x2="415.8" y2="611.5" stroke="#3a5bc6" stroke-width="0.9"/>
<circle cx="413.6" cy="610.6" r="1.3" fill="#3a5bc6"/>
<line x1="424.5" y1="582.7" x2="424.5" y2="591.7" stroke="#3a5bc6" stroke-width="0.9"/>
<line x1="421.9" y1="582.5" x2="426.3" y2="582.5" stroke="#3a5bc6" stroke-width="0.9"/>
<line x1="421.9" y1="591.5" x2="426.3" y2="591.5" stroke="#3a5bc6" stroke-width="0.9"/>
<circle cx="424.1" cy="587.2" r="1.3" fill="#3a5bc6"/>
<line x1="435.5" y1="574" x2="435.5" y2="583" stroke="#3a5bc6" stroke-width="0.9"/>
<line x1="433.7" y1="574.5" x2="438.1" y2="574.5" stroke="#3a5bc6" stroke-width="0.9"/>
<line x1="433.7" y1="583.5" x2="438.1" y2="583.5" stroke="#3a5bc6" stroke-width="0.9"/>
<circle cx="435.9" cy="578.5" r="1.3" fill="#3a5bc6"/>
<line x1="446.5" y1="570.1" x2="446.5" y2="579.1" stroke="#3a5bc6" stroke-width="0.9"/>
<line x1="444.2" y1="570.5" x2="448.6" y2="570.5" stroke="#3a5bc6" stroke-width="0.9"/>
<line x1="444.2" y1="579.5" x2="448.6" y2="579.5" stroke="#3a5bc6" stroke-width="0.9"/>
<circle cx="446.4" cy="574.6" r="1.3" fill="#3a5bc6"/>
<line x1="458.5" y1="547.6" x2="458.5" y2="561.6" stroke="#3a5bc6" stroke-width="0.9"/>
<line x1="456" y1="547.5" x2="460.4" y2="547.5" stroke="#3a5bc6" stroke-width="0.9"/>
<line x1="456" y1="561.5" x2="460.4" y2="561.5" stroke="#3a5bc6" stroke-width="0.9"/>
<circle cx="458.2" cy="554.6" r="1.3" fill="#3a5bc6"/>
<line x1="469.5" y1="546.3" x2="469.5" y2="560.3" stroke="#3a5bc6" stroke-width="0.9"/>
<line x1="467.1" y1="546.5" x2="471.5" y2="546.5" stroke="#3a5bc6" stroke-width="0.9"/>
<line x1="467.1" y1="560.5" x2="471.5" y2="560.5" stroke="#3a5bc6" stroke-width="0.9"/>
<circle cx="469.3" cy="553.3" r="1.3" fill="#3a5bc6"/>
<line x1="480.5" y1="546.8" x2="480.5" y2="560.8" stroke="#3a5bc6" stroke-width="0.9"/>
<line x1="477.8" y1="546.5" x2="482.2" y2="546.5" stroke="#3a5bc6" stroke-width="0.9"/>
<line x1="477.8" y1="560.5" x2="482.2" y2="560.5" stroke="#3a5bc6" stroke-width="0.9"/>
<circle cx="480" cy="553.8" r="1.3" fill="#3a5bc6"/>
<line x1="491.5" y1="601.3" x2="491.5" y2="606.3" stroke="#3a5bc6" stroke-width="0.9"/>
<line x1="489.1" y1="601.5" x2="493.5" y2="601.5" stroke="#3a5bc6" stroke-width="0.9"/>
<line x1="489.1" y1="606.5" x2="493.5" y2="606.5" stroke="#3a5bc6" stroke-width="0.9"/>
<circle cx="491.3" cy="603.8" r="1.3" fill="#3a5bc6"/>
<line x1="502.5" y1="604.9" x2="502.5" y2="608.9" stroke="#3a5bc6" stroke-width="0.9"/>
<line x1="500.7" y1="604.5" x2="505.1" y2="604.5" stroke="#3a5bc6" stroke-width="0.9"/>
<line x1="500.7" y1="608.5" x2="505.1" y2="608.5" stroke="#3a5bc6" stroke-width="0.9"/>
<circle cx="502.9" cy="606.9" r="1.3" fill="#3a5bc6"/>
<line x1="513.5" y1="606.8" x2="513.5" y2="610.8" stroke="#3a5bc6" stroke-width="0.9"/>
<line x1="511.7" y1="606.5" x2="516.1" y2="606.5" stroke="#3a5bc6" stroke-width="0.9"/>
<line x1="511.7" y1="610.5" x2="516.1" y2="610.5" stroke="#3a5bc6" stroke-width="0.9"/>
<circle cx="513.9" cy="608.8" r="1.3" fill="#3a5bc6"/>
<polyline points="389.9,604.8 402.3,605.6 413.6,606.7 424.1,580.4 435.9,570.1 446.4,565.9 458.2,543.9 469.3,542.5 480,543.3 491.3,602.2 502.9,604.3 513.9,606.1" fill="none" stroke="#e8402a" stroke-width="1.3" stroke-linejoin="round"/>
<line x1="389.5" y1="603.8" x2="389.5" y2="605.8" stroke="#e8402a" stroke-width="0.9"/>
<line x1="387.7" y1="603.5" x2="392.1" y2="603.5" stroke="#e8402a" stroke-width="0.9"/>
<line x1="387.7" y1="605.5" x2="392.1" y2="605.5" stroke="#e8402a" stroke-width="0.9"/>
<circle cx="389.9" cy="604.8" r="1.3" fill="#e8402a"/>
<line x1="402.5" y1="604.6" x2="402.5" y2="606.6" stroke="#e8402a" stroke-width="0.9"/>
<line x1="400.1" y1="604.5" x2="404.5" y2="604.5" stroke="#e8402a" stroke-width="0.9"/>
<line x1="400.1" y1="606.5" x2="404.5" y2="606.5" stroke="#e8402a" stroke-width="0.9"/>
<circle cx="402.3" cy="605.6" r="1.3" fill="#e8402a"/>
<line x1="413.5" y1="605.7" x2="413.5" y2="607.7" stroke="#e8402a" stroke-width="0.9"/>
<line x1="411.4" y1="605.5" x2="415.8" y2="605.5" stroke="#e8402a" stroke-width="0.9"/>
<line x1="411.4" y1="607.5" x2="415.8" y2="607.5" stroke="#e8402a" stroke-width="0.9"/>
<circle cx="413.6" cy="606.7" r="1.3" fill="#e8402a"/>
<line x1="424.5" y1="576.4" x2="424.5" y2="584.4" stroke="#e8402a" stroke-width="0.9"/>
<line x1="421.9" y1="576.5" x2="426.3" y2="576.5" stroke="#e8402a" stroke-width="0.9"/>
<line x1="421.9" y1="584.5" x2="426.3" y2="584.5" stroke="#e8402a" stroke-width="0.9"/>
<circle cx="424.1" cy="580.4" r="1.3" fill="#e8402a"/>
<line x1="435.5" y1="565.6" x2="435.5" y2="574.6" stroke="#e8402a" stroke-width="0.9"/>
<line x1="433.7" y1="565.5" x2="438.1" y2="565.5" stroke="#e8402a" stroke-width="0.9"/>
<line x1="433.7" y1="574.5" x2="438.1" y2="574.5" stroke="#e8402a" stroke-width="0.9"/>
<circle cx="435.9" cy="570.1" r="1.3" fill="#e8402a"/>
<line x1="446.5" y1="561.4" x2="446.5" y2="570.4" stroke="#e8402a" stroke-width="0.9"/>
<line x1="444.2" y1="561.5" x2="448.6" y2="561.5" stroke="#e8402a" stroke-width="0.9"/>
<line x1="444.2" y1="570.5" x2="448.6" y2="570.5" stroke="#e8402a" stroke-width="0.9"/>
<circle cx="446.4" cy="565.9" r="1.3" fill="#e8402a"/>
<line x1="458.5" y1="540.4" x2="458.5" y2="547.4" stroke="#e8402a" stroke-width="0.9"/>
<line x1="456" y1="540.5" x2="460.4" y2="540.5" stroke="#e8402a" stroke-width="0.9"/>
<line x1="456" y1="547.5" x2="460.4" y2="547.5" stroke="#e8402a" stroke-width="0.9"/>
<circle cx="458.2" cy="543.9" r="1.3" fill="#e8402a"/>
<line x1="469.5" y1="539" x2="469.5" y2="546" stroke="#e8402a" stroke-width="0.9"/>
<line x1="467.1" y1="539.5" x2="471.5" y2="539.5" stroke="#e8402a" stroke-width="0.9"/>
<line x1="467.1" y1="546.5" x2="471.5" y2="546.5" stroke="#e8402a" stroke-width="0.9"/>
<circle cx="469.3" cy="542.5" r="1.3" fill="#e8402a"/>
<line x1="480.5" y1="539.8" x2="480.5" y2="546.8" stroke="#e8402a" stroke-width="0.9"/>
<line x1="477.8" y1="539.5" x2="482.2" y2="539.5" stroke="#e8402a" stroke-width="0.9"/>
<line x1="477.8" y1="546.5" x2="482.2" y2="546.5" stroke="#e8402a" stroke-width="0.9"/>
<circle cx="480" cy="543.3" r="1.3" fill="#e8402a"/>
<line x1="491.5" y1="600.7" x2="491.5" y2="603.7" stroke="#e8402a" stroke-width="0.9"/>
<line x1="489.1" y1="600.5" x2="493.5" y2="600.5" stroke="#e8402a" stroke-width="0.9"/>
<line x1="489.1" y1="603.5" x2="493.5" y2="603.5" stroke="#e8402a" stroke-width="0.9"/>
<circle cx="491.3" cy="602.2" r="1.3" fill="#e8402a"/>
<line x1="502.5" y1="602.8" x2="502.5" y2="605.8" stroke="#e8402a" stroke-width="0.9"/>
<line x1="500.7" y1="602.5" x2="505.1" y2="602.5" stroke="#e8402a" stroke-width="0.9"/>
<line x1="500.7" y1="605.5" x2="505.1" y2="605.5" stroke="#e8402a" stroke-width="0.9"/>
<circle cx="502.9" cy="604.3" r="1.3" fill="#e8402a"/>
<line x1="513.5" y1="604.6" x2="513.5" y2="607.6" stroke="#e8402a" stroke-width="0.9"/>
<line x1="511.7" y1="604.5" x2="516.1" y2="604.5" stroke="#e8402a" stroke-width="0.9"/>
<line x1="511.7" y1="607.5" x2="516.1" y2="607.5" stroke="#e8402a" stroke-width="0.9"/>
<circle cx="513.9" cy="606.1" r="1.3" fill="#e8402a"/>
<line x1="414" y1="515.7" x2="422" y2="515.7" stroke="#3a5bc6" stroke-width="1.3"/>
<circle cx="418" cy="515.7" r="1.3" fill="#3a5bc6"/>
<text x="423.2" y="518.5" font-size="8.69" textLength="33.2" lengthAdjust="spacingAndGlyphs">Untreated</text>
<line x1="459.5" y1="515.7" x2="468" y2="515.7" stroke="#e8402a" stroke-width="1.3"/>
<circle cx="463.7" cy="515.7" r="1.3" fill="#e8402a"/>
<text x="469.3" y="518.5" font-size="8.69" textLength="33.7" lengthAdjust="spacingAndGlyphs">UNC0642</text>
<text x="420.1" y="551.5" text-anchor="middle" font-size="8.27" textLength="27.6" lengthAdjust="spacingAndGlyphs">Glucose</text>
<text x="452.2" y="531.3" text-anchor="middle" font-size="8.27" textLength="37.3" lengthAdjust="spacingAndGlyphs">Oligomycin</text>
<text x="487.9" y="531.3" text-anchor="middle" font-size="8.27" textLength="18" lengthAdjust="spacingAndGlyphs">2-DG</text>
<line x1="418.5" y1="555.5" x2="418.5" y2="560.2" stroke="#111" stroke-width="0.8"/>
<path d="M417.4 559.3L420.2 559.3L418.8 561.7Z" fill="#111"/>
<line x1="452.5" y1="534.5" x2="452.5" y2="539.1" stroke="#111" stroke-width="0.8"/>
<path d="M451.1 538.2L453.9 538.2L452.5 540.6Z" fill="#111"/>
<line x1="487.5" y1="534.5" x2="487.5" y2="539.1" stroke="#111" stroke-width="0.8"/>
<path d="M485.7 538.2L488.5 538.2L487.1 540.6Z" fill="#111"/>
<line x1="560.5" y1="545.2" x2="560.5" y2="620.1" stroke="#555" stroke-width="1"/>
<line x1="559.2" y1="619.5" x2="671.8" y2="619.5" stroke="#555" stroke-width="1"/>
<line x1="559.2" y1="604.5" x2="560.4" y2="604.5" stroke="#555" stroke-width="1"/>
<text x="559.4" y="607.54" text-anchor="end" font-size="7.95" textLength="8.34" lengthAdjust="spacingAndGlyphs">20</text>
<line x1="559.2" y1="589.5" x2="560.4" y2="589.5" stroke="#555" stroke-width="1"/>
<text x="559.4" y="592.68" text-anchor="end" font-size="7.95" textLength="8.34" lengthAdjust="spacingAndGlyphs">40</text>
<line x1="559.2" y1="575.5" x2="560.4" y2="575.5" stroke="#555" stroke-width="1"/>
<text x="559.4" y="577.82" text-anchor="end" font-size="7.95" textLength="8.34" lengthAdjust="spacingAndGlyphs">60</text>
<line x1="559.2" y1="560.5" x2="560.4" y2="560.5" stroke="#555" stroke-width="1"/>
<text x="559.4" y="562.96" text-anchor="end" font-size="7.95" textLength="8.34" lengthAdjust="spacingAndGlyphs">80</text>
<line x1="559.2" y1="545.5" x2="560.4" y2="545.5" stroke="#555" stroke-width="1"/>
<text x="559.4" y="548.1" text-anchor="end" font-size="7.95" textLength="12.51" lengthAdjust="spacingAndGlyphs">100</text>
<text x="557.6" y="622.4" text-anchor="end" font-size="7.95" textLength="4.17" lengthAdjust="spacingAndGlyphs">0</text>
<text x="543.9" y="577.5" text-anchor="middle" font-size="8.27" textLength="59" lengthAdjust="spacingAndGlyphs" transform="rotate(-90 543.9 577.5)">ECAR (mpH/min)</text>
<line x1="570.5" y1="594.3" x2="570.5" y2="590" stroke="#333" stroke-width="0.9"/>
<line x1="567.5" y1="590.5" x2="573.1" y2="590.5" stroke="#333" stroke-width="0.9"/>
<rect x="564.5" y="594.5" width="12" height="25" fill="#4652aa" stroke="#222" stroke-width="0.9"/>
<line x1="586.5" y1="592.5" x2="586.5" y2="589.5" stroke="#333" stroke-width="0.9"/>
<line x1="583.65" y1="589.5" x2="589.25" y2="589.5" stroke="#333" stroke-width="0.9"/>
<rect x="580.5" y="592.5" width="12" height="27" fill="#e02a12" stroke="#222" stroke-width="0.9"/>
<line x1="608.5" y1="572.2" x2="608.5" y2="567.7" stroke="#333" stroke-width="0.9"/>
<line x1="605.6" y1="567.5" x2="611.2" y2="567.5" stroke="#333" stroke-width="0.9"/>
<rect x="602.5" y="572.5" width="12" height="47" fill="#4652aa" stroke="#222" stroke-width="0.9"/>
<line x1="624.5" y1="570.1" x2="624.5" y2="566.9" stroke="#333" stroke-width="0.9"/>
<line x1="621.75" y1="566.5" x2="627.35" y2="566.5" stroke="#333" stroke-width="0.9"/>
<rect x="618.5" y="570.5" width="12" height="49" fill="#e02a12" stroke="#222" stroke-width="0.9"/>
<line x1="646.5" y1="598" x2="646.5" y2="594.6" stroke="#333" stroke-width="0.9"/>
<line x1="643.7" y1="594.5" x2="649.3" y2="594.5" stroke="#333" stroke-width="0.9"/>
<rect x="640.5" y="598.5" width="12" height="21" fill="#4652aa" stroke="#222" stroke-width="0.9"/>
<line x1="662.5" y1="597.7" x2="662.5" y2="594.6" stroke="#333" stroke-width="0.9"/>
<line x1="659.7" y1="594.5" x2="665.3" y2="594.5" stroke="#333" stroke-width="0.9"/>
<rect x="656.5" y="597.5" width="12" height="22" fill="#e02a12" stroke="#222" stroke-width="0.9"/>
<circle cx="570.1" cy="568.2" r="0.9" fill="#555"/>
<circle cx="586" cy="577.8" r="0.9" fill="#555"/>
<circle cx="586" cy="582" r="0.9" fill="#555"/>
<circle cx="586" cy="585.7" r="0.9" fill="#555"/>
<circle cx="607.3" cy="557.1" r="0.9" fill="#555"/>
<circle cx="609.9" cy="556" r="0.9" fill="#555"/>
<circle cx="608.7" cy="562.2" r="0.9" fill="#555"/>
<circle cx="622.4" cy="562.7" r="0.9" fill="#555"/>
<circle cx="626.3" cy="562.7" r="0.9" fill="#555"/>
<circle cx="623.8" cy="566.5" r="0.9" fill="#555"/>
<circle cx="625.8" cy="566.5" r="0.9" fill="#555"/>
<circle cx="646.5" cy="583.3" r="0.9" fill="#555"/>
<circle cx="646.5" cy="585.7" r="0.9" fill="#555"/>
<circle cx="646.5" cy="588.3" r="0.9" fill="#555"/>
<circle cx="660.7" cy="588.7" r="0.9" fill="#555"/>
<circle cx="664.1" cy="588.7" r="0.9" fill="#555"/>
<circle cx="662.4" cy="592" r="0.9" fill="#555"/>
<circle cx="567.6" cy="604.6" r="0.9" fill="rgba(90,90,90,0.75)"/>
<circle cx="570.1" cy="604.6" r="0.9" fill="rgba(90,90,90,0.75)"/>
<circle cx="573.4" cy="604.6" r="0.9" fill="rgba(90,90,90,0.75)"/>
<circle cx="570.1" cy="592.5" r="0.9" fill="rgba(90,90,90,0.75)"/>
<circle cx="584.8" cy="594.6" r="0.9" fill="rgba(90,90,90,0.75)"/>
<circle cx="587.7" cy="594.6" r="0.9" fill="rgba(90,90,90,0.75)"/>
<circle cx="586" cy="599.6" r="0.9" fill="rgba(90,90,90,0.75)"/>
<circle cx="586" cy="603.8" r="0.9" fill="rgba(90,90,90,0.75)"/>
<circle cx="607" cy="588.3" r="0.9" fill="rgba(90,90,90,0.75)"/>
<circle cx="609.9" cy="588.3" r="0.9" fill="rgba(90,90,90,0.75)"/>
<circle cx="608.5" cy="585.7" r="0.9" fill="rgba(90,90,90,0.75)"/>
<circle cx="622.4" cy="571.5" r="0.9" fill="rgba(90,90,90,0.75)"/>
<circle cx="627.1" cy="571.5" r="0.9" fill="rgba(90,90,90,0.75)"/>
<circle cx="624.6" cy="585.7" r="0.9" fill="rgba(90,90,90,0.75)"/>
<circle cx="645.3" cy="600.1" r="0.9" fill="rgba(90,90,90,0.75)"/>
<circle cx="648.1" cy="603.5" r="0.9" fill="rgba(90,90,90,0.75)"/>
<circle cx="644.8" cy="603.5" r="0.9" fill="rgba(90,90,90,0.75)"/>
<circle cx="660.7" cy="601.8" r="0.9" fill="rgba(90,90,90,0.75)"/>
<circle cx="663.7" cy="600.8" r="0.9" fill="rgba(90,90,90,0.75)"/>
<circle cx="662.4" cy="604.6" r="0.9" fill="rgba(90,90,90,0.75)"/>
<circle cx="662.4" cy="613.5" r="0.9" fill="rgba(90,90,90,0.75)"/>
<line x1="578.5" y1="619.6" x2="578.5" y2="621.6" stroke="#222" stroke-width="1"/>
<line x1="616.5" y1="619.6" x2="616.5" y2="621.6" stroke="#222" stroke-width="1"/>
<line x1="654.5" y1="619.6" x2="654.5" y2="621.6" stroke="#222" stroke-width="1"/>
<rect x="569.5" y="514.5" width="8" height="5" fill="#4652aa" stroke="#222" stroke-width="0.8"/>
<text x="581.2" y="519.8" font-size="8.69" textLength="33.6" lengthAdjust="spacingAndGlyphs">Untreated</text>
<rect x="621.5" y="514.5" width="8" height="5" fill="#e02a12" stroke="#222" stroke-width="0.8"/>
<text x="633.7" y="519.8" font-size="8.69" textLength="33.7" lengthAdjust="spacingAndGlyphs">UNC0642</text>
<text x="581.5" y="627.5" text-anchor="end" font-size="8.27" textLength="35.1" lengthAdjust="spacingAndGlyphs" transform="rotate(-45 581.5 627.5)">Glycolysis</text>
<text x="619" y="628.5" text-anchor="end" font-size="8.27" textLength="33.37" lengthAdjust="spacingAndGlyphs" transform="rotate(-45 619 628.5)">Glycolytic</text>
<text x="627.5" y="635" text-anchor="end" font-size="8.27" textLength="28.61" lengthAdjust="spacingAndGlyphs" transform="rotate(-45 627.5 635)">capacity</text>
<text x="655.5" y="628.5" text-anchor="end" font-size="8.27" textLength="33.37" lengthAdjust="spacingAndGlyphs" transform="rotate(-45 655.5 628.5)">Glycolytic</text>
<text x="664" y="634" text-anchor="end" font-size="8.27" textLength="26.01" lengthAdjust="spacingAndGlyphs" transform="rotate(-45 664 634)">reserve</text>
</svg>
</body></html>
